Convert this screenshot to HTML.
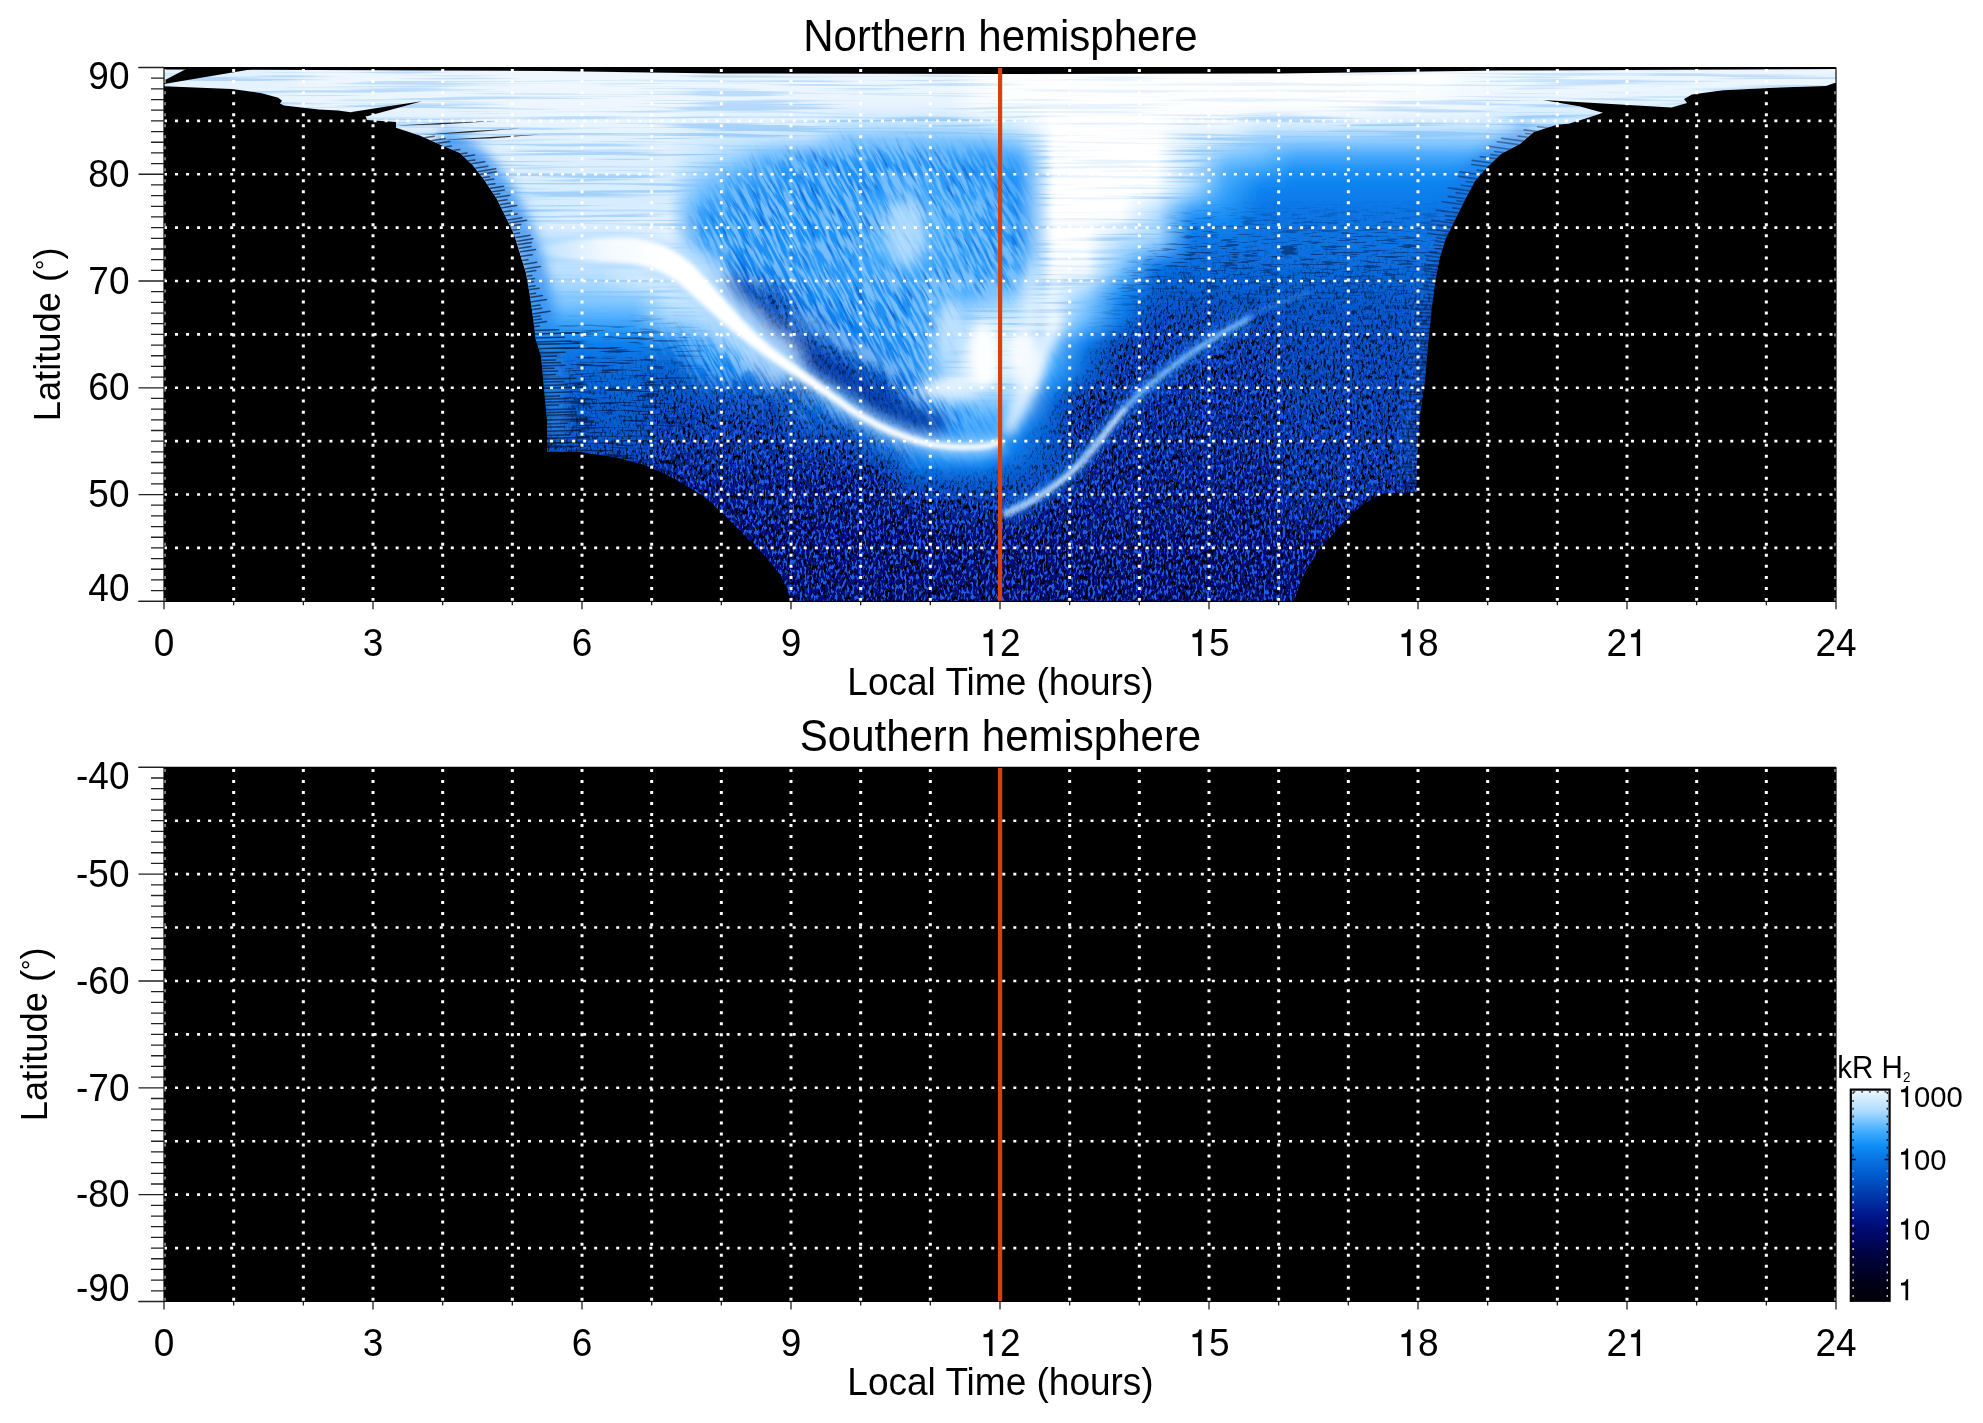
<!DOCTYPE html><html><head><meta charset="utf-8"><style>html,body{margin:0;padding:0;background:#fff;overflow:hidden}svg{display:block;will-change:transform}text{font-family:"Liberation Sans",sans-serif;fill:#000}</style></head><body>
<svg width="1983" height="1423" viewBox="0 0 1983 1423">
<defs>
<clipPath id="aclip"><polygon points="164.0,67.5 1836.0,67.5 1836.0,82.6 1825.8,86.0 1774.0,87.7 1723.0,90.3 1692.0,94.6 1684.0,98.9 1687.0,103.0 1671.5,107.4 1620.0,104.5 1543.0,100.0 1580.0,106.5 1603.0,112.8 1585.7,118.6 1568.6,123.7 1557.5,124.5 1534.0,132.0 1520.0,144.0 1501.0,154.0 1487.0,167.5 1475.0,181.0 1465.6,198.8 1456.0,218.0 1446.0,238.0 1440.0,257.0 1436.0,277.0 1432.0,306.0 1428.5,339.5 1425.0,380.0 1419.0,422.0 1417.0,460.0 1416.6,492.0 1381.5,493.5 1360.8,505.7 1340.0,526.4 1319.4,549.0 1305.0,572.0 1294.6,598.8 1293.0,601.3 792.0,601.3 781.0,575.4 761.5,552.0 742.2,533.0 723.0,513.6 703.6,496.0 674.6,478.8 645.6,465.3 616.6,457.5 578.0,451.7 547.0,451.7 547.0,420.0 545.0,399.0 541.0,356.0 535.7,339.5 533.8,323.8 530.0,296.5 526.0,273.0 520.0,253.5 514.0,234.0 506.4,218.3 496.7,198.8 485.0,181.0 473.0,165.6 460.0,153.0 437.0,143.3 419.6,135.6 396.0,127.8 396.0,122.0 367.0,120.0 365.0,114.3 338.0,110.4 319.0,109.4 284.0,105.6 280.0,103.6 282.0,100.7 278.3,97.8 260.8,93.0 231.8,89.1 164.0,86.2"/></clipPath>
<filter id="gb" filterUnits="userSpaceOnUse" x="100" y="20" width="1800" height="640"><feGaussianBlur stdDeviation="3 6"/></filter>
<filter id="ab" filterUnits="userSpaceOnUse" x="100" y="40" width="1800" height="620"><feGaussianBlur stdDeviation="2"/></filter>
<filter id="ab2" filterUnits="userSpaceOnUse" x="100" y="40" width="1800" height="620"><feGaussianBlur stdDeviation="6"/></filter>
<filter id="ab3" filterUnits="userSpaceOnUse" x="100" y="40" width="1800" height="620"><feGaussianBlur stdDeviation="10"/></filter>
<linearGradient id="g0" gradientUnits="userSpaceOnUse" x1="164.0" y1="0" x2="1836.0" y2="0"><stop offset="0.0104" stop-color="#e4f2ff"/><stop offset="0.0312" stop-color="#e4f2ff"/><stop offset="0.0521" stop-color="#e4f2ff"/><stop offset="0.0729" stop-color="#e4f2ff"/><stop offset="0.0938" stop-color="#edf6ff"/><stop offset="0.1146" stop-color="#edf6ff"/><stop offset="0.1354" stop-color="#edf6ff"/><stop offset="0.1562" stop-color="#edf6ff"/><stop offset="0.1771" stop-color="#edf6ff"/><stop offset="0.1979" stop-color="#edf6ff"/><stop offset="0.2188" stop-color="#f0f8ff"/><stop offset="0.2396" stop-color="#f0f8ff"/><stop offset="0.2604" stop-color="#f0f8ff"/><stop offset="0.2812" stop-color="#f0f8ff"/><stop offset="0.3021" stop-color="#f0f8ff"/><stop offset="0.3229" stop-color="#edf6ff"/><stop offset="0.3438" stop-color="#edf6ff"/><stop offset="0.3646" stop-color="#edf6ff"/><stop offset="0.3854" stop-color="#edf6ff"/><stop offset="0.4062" stop-color="#edf6ff"/><stop offset="0.4271" stop-color="#edf6ff"/><stop offset="0.4479" stop-color="#edf6ff"/><stop offset="0.4688" stop-color="#edf6ff"/><stop offset="0.4896" stop-color="#f9fcff"/><stop offset="0.5104" stop-color="#ffffff"/><stop offset="0.5312" stop-color="#ffffff"/><stop offset="0.5521" stop-color="#ffffff"/><stop offset="0.5729" stop-color="#ffffff"/><stop offset="0.5938" stop-color="#ffffff"/><stop offset="0.6146" stop-color="#ffffff"/><stop offset="0.6354" stop-color="#ffffff"/><stop offset="0.6562" stop-color="#ffffff"/><stop offset="0.6771" stop-color="#ffffff"/><stop offset="0.6979" stop-color="#ffffff"/><stop offset="0.7188" stop-color="#ffffff"/><stop offset="0.7396" stop-color="#ffffff"/><stop offset="0.7604" stop-color="#ffffff"/><stop offset="0.7812" stop-color="#f3f9ff"/><stop offset="0.8021" stop-color="#f3f9ff"/><stop offset="0.8229" stop-color="#f3f9ff"/><stop offset="0.8438" stop-color="#f3f9ff"/><stop offset="0.8646" stop-color="#edf6ff"/><stop offset="0.8854" stop-color="#edf6ff"/><stop offset="0.9062" stop-color="#edf6ff"/><stop offset="0.9271" stop-color="#edf6ff"/><stop offset="0.9479" stop-color="#edf6ff"/><stop offset="0.9688" stop-color="#edf6ff"/><stop offset="0.9896" stop-color="#edf6ff"/></linearGradient>
<linearGradient id="g1" gradientUnits="userSpaceOnUse" x1="164.0" y1="0" x2="1836.0" y2="0"><stop offset="0.0104" stop-color="#e5f3ff"/><stop offset="0.0312" stop-color="#e5f3ff"/><stop offset="0.0521" stop-color="#e5f3ff"/><stop offset="0.0729" stop-color="#e5f3ff"/><stop offset="0.0938" stop-color="#ecf6ff"/><stop offset="0.1146" stop-color="#ecf6ff"/><stop offset="0.1354" stop-color="#ecf6ff"/><stop offset="0.1562" stop-color="#ecf6ff"/><stop offset="0.1771" stop-color="#ecf6ff"/><stop offset="0.1979" stop-color="#ecf6ff"/><stop offset="0.2188" stop-color="#eff8ff"/><stop offset="0.2396" stop-color="#eff8ff"/><stop offset="0.2604" stop-color="#eff8ff"/><stop offset="0.2812" stop-color="#eff8ff"/><stop offset="0.3021" stop-color="#eff8ff"/><stop offset="0.3229" stop-color="#ecf6ff"/><stop offset="0.3438" stop-color="#ecf6ff"/><stop offset="0.3646" stop-color="#ecf6ff"/><stop offset="0.3854" stop-color="#ecf6ff"/><stop offset="0.4062" stop-color="#ecf6ff"/><stop offset="0.4271" stop-color="#ecf6ff"/><stop offset="0.4479" stop-color="#ecf6ff"/><stop offset="0.4688" stop-color="#ecf6ff"/><stop offset="0.4896" stop-color="#f9fcff"/><stop offset="0.5104" stop-color="#ffffff"/><stop offset="0.5312" stop-color="#ffffff"/><stop offset="0.5521" stop-color="#ffffff"/><stop offset="0.5729" stop-color="#ffffff"/><stop offset="0.5938" stop-color="#ffffff"/><stop offset="0.6146" stop-color="#ffffff"/><stop offset="0.6354" stop-color="#ffffff"/><stop offset="0.6562" stop-color="#ffffff"/><stop offset="0.6771" stop-color="#ffffff"/><stop offset="0.6979" stop-color="#ffffff"/><stop offset="0.7188" stop-color="#ffffff"/><stop offset="0.7396" stop-color="#fcfeff"/><stop offset="0.7604" stop-color="#fcfeff"/><stop offset="0.7812" stop-color="#f3f9ff"/><stop offset="0.8021" stop-color="#f0f8ff"/><stop offset="0.8229" stop-color="#f0f8ff"/><stop offset="0.8438" stop-color="#f0f8ff"/><stop offset="0.8646" stop-color="#ecf6ff"/><stop offset="0.8854" stop-color="#ecf6ff"/><stop offset="0.9062" stop-color="#ecf6ff"/><stop offset="0.9271" stop-color="#ecf6ff"/><stop offset="0.9479" stop-color="#ecf6ff"/><stop offset="0.9688" stop-color="#ecf6ff"/><stop offset="0.9896" stop-color="#ecf6ff"/></linearGradient>
<linearGradient id="g2" gradientUnits="userSpaceOnUse" x1="164.0" y1="0" x2="1836.0" y2="0"><stop offset="0.0104" stop-color="#e8f4ff"/><stop offset="0.0312" stop-color="#e8f4ff"/><stop offset="0.0521" stop-color="#e8f4ff"/><stop offset="0.0729" stop-color="#e8f4ff"/><stop offset="0.0938" stop-color="#ebf5ff"/><stop offset="0.1146" stop-color="#ebf5ff"/><stop offset="0.1354" stop-color="#ebf5ff"/><stop offset="0.1562" stop-color="#ebf5ff"/><stop offset="0.1771" stop-color="#ebf5ff"/><stop offset="0.1979" stop-color="#ebf5ff"/><stop offset="0.2188" stop-color="#eef7ff"/><stop offset="0.2396" stop-color="#eef7ff"/><stop offset="0.2604" stop-color="#eef7ff"/><stop offset="0.2812" stop-color="#eef7ff"/><stop offset="0.3021" stop-color="#eef7ff"/><stop offset="0.3229" stop-color="#ebf5ff"/><stop offset="0.3438" stop-color="#ebf5ff"/><stop offset="0.3646" stop-color="#ebf5ff"/><stop offset="0.3854" stop-color="#ebf5ff"/><stop offset="0.4062" stop-color="#ebf5ff"/><stop offset="0.4271" stop-color="#ebf5ff"/><stop offset="0.4479" stop-color="#ebf5ff"/><stop offset="0.4688" stop-color="#ebf5ff"/><stop offset="0.4896" stop-color="#f9fcff"/><stop offset="0.5104" stop-color="#ffffff"/><stop offset="0.5312" stop-color="#ffffff"/><stop offset="0.5521" stop-color="#ffffff"/><stop offset="0.5729" stop-color="#ffffff"/><stop offset="0.5938" stop-color="#ffffff"/><stop offset="0.6146" stop-color="#ffffff"/><stop offset="0.6354" stop-color="#ffffff"/><stop offset="0.6562" stop-color="#ffffff"/><stop offset="0.6771" stop-color="#ffffff"/><stop offset="0.6979" stop-color="#ffffff"/><stop offset="0.7188" stop-color="#ffffff"/><stop offset="0.7396" stop-color="#f6fbff"/><stop offset="0.7604" stop-color="#f6fbff"/><stop offset="0.7812" stop-color="#f3f9ff"/><stop offset="0.8021" stop-color="#eaf5ff"/><stop offset="0.8229" stop-color="#eaf5ff"/><stop offset="0.8438" stop-color="#eaf5ff"/><stop offset="0.8646" stop-color="#e7f4ff"/><stop offset="0.8854" stop-color="#e7f4ff"/><stop offset="0.9062" stop-color="#e7f4ff"/><stop offset="0.9271" stop-color="#e7f4ff"/><stop offset="0.9479" stop-color="#e7f4ff"/><stop offset="0.9688" stop-color="#e7f4ff"/><stop offset="0.9896" stop-color="#e7f4ff"/></linearGradient>
<linearGradient id="g3" gradientUnits="userSpaceOnUse" x1="164.0" y1="0" x2="1836.0" y2="0"><stop offset="0.0104" stop-color="#e5f3ff"/><stop offset="0.0312" stop-color="#e5f3ff"/><stop offset="0.0521" stop-color="#e5f3ff"/><stop offset="0.0729" stop-color="#e5f3ff"/><stop offset="0.0938" stop-color="#e5f3ff"/><stop offset="0.1146" stop-color="#e5f3ff"/><stop offset="0.1354" stop-color="#e5f3ff"/><stop offset="0.1562" stop-color="#e5f3ff"/><stop offset="0.1771" stop-color="#e5f3ff"/><stop offset="0.1979" stop-color="#e8f4ff"/><stop offset="0.2188" stop-color="#ecf6ff"/><stop offset="0.2396" stop-color="#ecf6ff"/><stop offset="0.2604" stop-color="#ecf6ff"/><stop offset="0.2812" stop-color="#ecf6ff"/><stop offset="0.3021" stop-color="#ecf6ff"/><stop offset="0.3229" stop-color="#e5f3ff"/><stop offset="0.3438" stop-color="#e5f3ff"/><stop offset="0.3646" stop-color="#e5f3ff"/><stop offset="0.3854" stop-color="#e5f3ff"/><stop offset="0.4062" stop-color="#d9eeff"/><stop offset="0.4271" stop-color="#d9eeff"/><stop offset="0.4479" stop-color="#d9eeff"/><stop offset="0.4688" stop-color="#d9eeff"/><stop offset="0.4896" stop-color="#edf6ff"/><stop offset="0.5104" stop-color="#f4faff"/><stop offset="0.5312" stop-color="#ffffff"/><stop offset="0.5521" stop-color="#ffffff"/><stop offset="0.5729" stop-color="#ffffff"/><stop offset="0.5938" stop-color="#ffffff"/><stop offset="0.6146" stop-color="#f9fcff"/><stop offset="0.6354" stop-color="#f9fcff"/><stop offset="0.6562" stop-color="#f3f9ff"/><stop offset="0.6771" stop-color="#f3f9ff"/><stop offset="0.6979" stop-color="#f3f9ff"/><stop offset="0.7188" stop-color="#f3f9ff"/><stop offset="0.7396" stop-color="#eaf5ff"/><stop offset="0.7604" stop-color="#eaf5ff"/><stop offset="0.7812" stop-color="#eaf5ff"/><stop offset="0.8021" stop-color="#d7edff"/><stop offset="0.8229" stop-color="#d7edff"/><stop offset="0.8438" stop-color="#d7edff"/><stop offset="0.8646" stop-color="#d7edff"/><stop offset="0.8854" stop-color="#d7edff"/><stop offset="0.9062" stop-color="#d7edff"/><stop offset="0.9271" stop-color="#d7edff"/><stop offset="0.9479" stop-color="#d7edff"/><stop offset="0.9688" stop-color="#d7edff"/><stop offset="0.9896" stop-color="#d7edff"/></linearGradient>
<linearGradient id="g4" gradientUnits="userSpaceOnUse" x1="164.0" y1="0" x2="1836.0" y2="0"><stop offset="0.0104" stop-color="#dcefff"/><stop offset="0.0312" stop-color="#dcefff"/><stop offset="0.0521" stop-color="#dcefff"/><stop offset="0.0729" stop-color="#dcefff"/><stop offset="0.0938" stop-color="#dcefff"/><stop offset="0.1146" stop-color="#dcefff"/><stop offset="0.1354" stop-color="#dcefff"/><stop offset="0.1562" stop-color="#dcefff"/><stop offset="0.1771" stop-color="#dcefff"/><stop offset="0.1979" stop-color="#e5f3ff"/><stop offset="0.2188" stop-color="#e7f4ff"/><stop offset="0.2396" stop-color="#e7f4ff"/><stop offset="0.2604" stop-color="#e7f4ff"/><stop offset="0.2812" stop-color="#e7f4ff"/><stop offset="0.3021" stop-color="#e7f4ff"/><stop offset="0.3229" stop-color="#dcefff"/><stop offset="0.3438" stop-color="#dcefff"/><stop offset="0.3646" stop-color="#dcefff"/><stop offset="0.3854" stop-color="#dcefff"/><stop offset="0.4062" stop-color="#b5dfff"/><stop offset="0.4271" stop-color="#b5dfff"/><stop offset="0.4479" stop-color="#b5dfff"/><stop offset="0.4688" stop-color="#b5dfff"/><stop offset="0.4896" stop-color="#bee3ff"/><stop offset="0.5104" stop-color="#cfeaff"/><stop offset="0.5312" stop-color="#ffffff"/><stop offset="0.5521" stop-color="#ffffff"/><stop offset="0.5729" stop-color="#ffffff"/><stop offset="0.5938" stop-color="#ffffff"/><stop offset="0.6146" stop-color="#edf6ff"/><stop offset="0.6354" stop-color="#edf6ff"/><stop offset="0.6562" stop-color="#cbe8ff"/><stop offset="0.6771" stop-color="#cbe8ff"/><stop offset="0.6979" stop-color="#cbe8ff"/><stop offset="0.7188" stop-color="#cbe8ff"/><stop offset="0.7396" stop-color="#c5e5ff"/><stop offset="0.7604" stop-color="#c5e5ff"/><stop offset="0.7812" stop-color="#c5e5ff"/><stop offset="0.8021" stop-color="#bee3ff"/><stop offset="0.8229" stop-color="#bee3ff"/><stop offset="0.8438" stop-color="#bee3ff"/><stop offset="0.8646" stop-color="#bee3ff"/><stop offset="0.8854" stop-color="#bee3ff"/><stop offset="0.9062" stop-color="#bee3ff"/><stop offset="0.9271" stop-color="#bee3ff"/><stop offset="0.9479" stop-color="#bee3ff"/><stop offset="0.9688" stop-color="#bee3ff"/><stop offset="0.9896" stop-color="#bee3ff"/></linearGradient>
<linearGradient id="g5" gradientUnits="userSpaceOnUse" x1="164.0" y1="0" x2="1836.0" y2="0"><stop offset="0.0104" stop-color="#d6ecff"/><stop offset="0.0312" stop-color="#d6ecff"/><stop offset="0.0521" stop-color="#d6ecff"/><stop offset="0.0729" stop-color="#d6ecff"/><stop offset="0.0938" stop-color="#d6ecff"/><stop offset="0.1146" stop-color="#d6ecff"/><stop offset="0.1354" stop-color="#d6ecff"/><stop offset="0.1562" stop-color="#d6ecff"/><stop offset="0.1771" stop-color="#d6ecff"/><stop offset="0.1979" stop-color="#e2f2ff"/><stop offset="0.2188" stop-color="#e2f2ff"/><stop offset="0.2396" stop-color="#e2f2ff"/><stop offset="0.2604" stop-color="#e2f2ff"/><stop offset="0.2812" stop-color="#e2f2ff"/><stop offset="0.3021" stop-color="#e2f2ff"/><stop offset="0.3229" stop-color="#d1eaff"/><stop offset="0.3438" stop-color="#c8e7ff"/><stop offset="0.3646" stop-color="#bbe1ff"/><stop offset="0.3854" stop-color="#b3deff"/><stop offset="0.4062" stop-color="#75c2ff"/><stop offset="0.4271" stop-color="#75c2ff"/><stop offset="0.4479" stop-color="#75c2ff"/><stop offset="0.4688" stop-color="#75c2ff"/><stop offset="0.4896" stop-color="#75c2ff"/><stop offset="0.5104" stop-color="#91cfff"/><stop offset="0.5312" stop-color="#ffffff"/><stop offset="0.5521" stop-color="#ffffff"/><stop offset="0.5729" stop-color="#ffffff"/><stop offset="0.5938" stop-color="#ffffff"/><stop offset="0.6146" stop-color="#ddf0ff"/><stop offset="0.6354" stop-color="#cbe8ff"/><stop offset="0.6562" stop-color="#99d2ff"/><stop offset="0.6771" stop-color="#8acbff"/><stop offset="0.6979" stop-color="#8acbff"/><stop offset="0.7188" stop-color="#8acbff"/><stop offset="0.7396" stop-color="#8acbff"/><stop offset="0.7604" stop-color="#8acbff"/><stop offset="0.7812" stop-color="#8acbff"/><stop offset="0.8021" stop-color="#8acbff"/><stop offset="0.8229" stop-color="#8acbff"/><stop offset="0.8438" stop-color="#8acbff"/><stop offset="0.8646" stop-color="#8acbff"/><stop offset="0.8854" stop-color="#8acbff"/><stop offset="0.9062" stop-color="#8acbff"/><stop offset="0.9271" stop-color="#8acbff"/><stop offset="0.9479" stop-color="#8acbff"/><stop offset="0.9688" stop-color="#8acbff"/><stop offset="0.9896" stop-color="#8acbff"/></linearGradient>
<linearGradient id="g6" gradientUnits="userSpaceOnUse" x1="164.0" y1="0" x2="1836.0" y2="0"><stop offset="0.0104" stop-color="#d3ebff"/><stop offset="0.0312" stop-color="#d3ebff"/><stop offset="0.0521" stop-color="#d3ebff"/><stop offset="0.0729" stop-color="#d3ebff"/><stop offset="0.0938" stop-color="#d3ebff"/><stop offset="0.1146" stop-color="#d3ebff"/><stop offset="0.1354" stop-color="#d3ebff"/><stop offset="0.1562" stop-color="#d3ebff"/><stop offset="0.1771" stop-color="#d3ebff"/><stop offset="0.1979" stop-color="#dff0ff"/><stop offset="0.2188" stop-color="#dff0ff"/><stop offset="0.2396" stop-color="#dff0ff"/><stop offset="0.2604" stop-color="#dff0ff"/><stop offset="0.2812" stop-color="#dff0ff"/><stop offset="0.3021" stop-color="#dff0ff"/><stop offset="0.3229" stop-color="#c4e5ff"/><stop offset="0.3438" stop-color="#9ed5ff"/><stop offset="0.3646" stop-color="#62b9fe"/><stop offset="0.3854" stop-color="#46abfd"/><stop offset="0.4062" stop-color="#35a2fb"/><stop offset="0.4271" stop-color="#35a2fb"/><stop offset="0.4479" stop-color="#35a2fb"/><stop offset="0.4688" stop-color="#35a2fb"/><stop offset="0.4896" stop-color="#35a2fb"/><stop offset="0.5104" stop-color="#48acfd"/><stop offset="0.5312" stop-color="#ffffff"/><stop offset="0.5521" stop-color="#ffffff"/><stop offset="0.5729" stop-color="#ffffff"/><stop offset="0.5938" stop-color="#ffffff"/><stop offset="0.6146" stop-color="#d1eaff"/><stop offset="0.6354" stop-color="#85c9ff"/><stop offset="0.6562" stop-color="#70c0ff"/><stop offset="0.6771" stop-color="#46abfd"/><stop offset="0.6979" stop-color="#46abfd"/><stop offset="0.7188" stop-color="#46abfd"/><stop offset="0.7396" stop-color="#46abfd"/><stop offset="0.7604" stop-color="#46abfd"/><stop offset="0.7812" stop-color="#46abfd"/><stop offset="0.8021" stop-color="#46abfd"/><stop offset="0.8229" stop-color="#46abfd"/><stop offset="0.8438" stop-color="#46abfd"/><stop offset="0.8646" stop-color="#46abfd"/><stop offset="0.8854" stop-color="#46abfd"/><stop offset="0.9062" stop-color="#46abfd"/><stop offset="0.9271" stop-color="#46abfd"/><stop offset="0.9479" stop-color="#46abfd"/><stop offset="0.9688" stop-color="#46abfd"/><stop offset="0.9896" stop-color="#46abfd"/></linearGradient>
<linearGradient id="g7" gradientUnits="userSpaceOnUse" x1="164.0" y1="0" x2="1836.0" y2="0"><stop offset="0.0104" stop-color="#cfeaff"/><stop offset="0.0312" stop-color="#cfeaff"/><stop offset="0.0521" stop-color="#cfeaff"/><stop offset="0.0729" stop-color="#cfeaff"/><stop offset="0.0938" stop-color="#cfeaff"/><stop offset="0.1146" stop-color="#cfeaff"/><stop offset="0.1354" stop-color="#cfeaff"/><stop offset="0.1562" stop-color="#cfeaff"/><stop offset="0.1771" stop-color="#cfeaff"/><stop offset="0.1979" stop-color="#d9eeff"/><stop offset="0.2188" stop-color="#dcefff"/><stop offset="0.2396" stop-color="#dcefff"/><stop offset="0.2604" stop-color="#dcefff"/><stop offset="0.2812" stop-color="#dcefff"/><stop offset="0.3021" stop-color="#dcefff"/><stop offset="0.3229" stop-color="#aedbff"/><stop offset="0.3438" stop-color="#6bbeff"/><stop offset="0.3646" stop-color="#319ffb"/><stop offset="0.3854" stop-color="#1d91f7"/><stop offset="0.4062" stop-color="#1d91f7"/><stop offset="0.4271" stop-color="#1d91f7"/><stop offset="0.4479" stop-color="#299af9"/><stop offset="0.4688" stop-color="#2194f7"/><stop offset="0.4896" stop-color="#2194f7"/><stop offset="0.5104" stop-color="#2798f9"/><stop offset="0.5312" stop-color="#ffffff"/><stop offset="0.5521" stop-color="#ffffff"/><stop offset="0.5729" stop-color="#ffffff"/><stop offset="0.5938" stop-color="#ffffff"/><stop offset="0.6146" stop-color="#c6e6ff"/><stop offset="0.6354" stop-color="#54b2fe"/><stop offset="0.6562" stop-color="#41a9fc"/><stop offset="0.6771" stop-color="#2194f7"/><stop offset="0.6979" stop-color="#2194f7"/><stop offset="0.7188" stop-color="#2194f7"/><stop offset="0.7396" stop-color="#2194f7"/><stop offset="0.7604" stop-color="#2194f7"/><stop offset="0.7812" stop-color="#2194f7"/><stop offset="0.8021" stop-color="#2194f7"/><stop offset="0.8229" stop-color="#2194f7"/><stop offset="0.8438" stop-color="#2194f7"/><stop offset="0.8646" stop-color="#2194f7"/><stop offset="0.8854" stop-color="#2194f7"/><stop offset="0.9062" stop-color="#2194f7"/><stop offset="0.9271" stop-color="#2194f7"/><stop offset="0.9479" stop-color="#2194f7"/><stop offset="0.9688" stop-color="#2194f7"/><stop offset="0.9896" stop-color="#2194f7"/></linearGradient>
<linearGradient id="g8" gradientUnits="userSpaceOnUse" x1="164.0" y1="0" x2="1836.0" y2="0"><stop offset="0.0104" stop-color="#cce9ff"/><stop offset="0.0312" stop-color="#cce9ff"/><stop offset="0.0521" stop-color="#cce9ff"/><stop offset="0.0729" stop-color="#cce9ff"/><stop offset="0.0938" stop-color="#cce9ff"/><stop offset="0.1146" stop-color="#cce9ff"/><stop offset="0.1354" stop-color="#cce9ff"/><stop offset="0.1562" stop-color="#cce9ff"/><stop offset="0.1771" stop-color="#cce9ff"/><stop offset="0.1979" stop-color="#cfeaff"/><stop offset="0.2188" stop-color="#d9eeff"/><stop offset="0.2396" stop-color="#d9eeff"/><stop offset="0.2604" stop-color="#d9eeff"/><stop offset="0.2812" stop-color="#d9eeff"/><stop offset="0.3021" stop-color="#d9eeff"/><stop offset="0.3229" stop-color="#85c9ff"/><stop offset="0.3438" stop-color="#3da6fc"/><stop offset="0.3646" stop-color="#2496f8"/><stop offset="0.3854" stop-color="#1d91f7"/><stop offset="0.4062" stop-color="#1d91f7"/><stop offset="0.4271" stop-color="#1d91f7"/><stop offset="0.4479" stop-color="#44aafd"/><stop offset="0.4688" stop-color="#2798f9"/><stop offset="0.4896" stop-color="#2798f9"/><stop offset="0.5104" stop-color="#2194f7"/><stop offset="0.5312" stop-color="#ffffff"/><stop offset="0.5521" stop-color="#ffffff"/><stop offset="0.5729" stop-color="#ffffff"/><stop offset="0.5938" stop-color="#ffffff"/><stop offset="0.6146" stop-color="#bde2ff"/><stop offset="0.6354" stop-color="#41a9fc"/><stop offset="0.6562" stop-color="#178df5"/><stop offset="0.6771" stop-color="#0f86f2"/><stop offset="0.6979" stop-color="#0f86f2"/><stop offset="0.7188" stop-color="#0f86f2"/><stop offset="0.7396" stop-color="#0f86f2"/><stop offset="0.7604" stop-color="#0f86f2"/><stop offset="0.7812" stop-color="#0f86f2"/><stop offset="0.8021" stop-color="#0f86f2"/><stop offset="0.8229" stop-color="#0f86f2"/><stop offset="0.8438" stop-color="#0f86f2"/><stop offset="0.8646" stop-color="#0f86f2"/><stop offset="0.8854" stop-color="#0f86f2"/><stop offset="0.9062" stop-color="#0f86f2"/><stop offset="0.9271" stop-color="#0f86f2"/><stop offset="0.9479" stop-color="#0f86f2"/><stop offset="0.9688" stop-color="#0f86f2"/><stop offset="0.9896" stop-color="#0f86f2"/></linearGradient>
<linearGradient id="g9" gradientUnits="userSpaceOnUse" x1="164.0" y1="0" x2="1836.0" y2="0"><stop offset="0.0104" stop-color="#cbe8ff"/><stop offset="0.0312" stop-color="#cbe8ff"/><stop offset="0.0521" stop-color="#cbe8ff"/><stop offset="0.0729" stop-color="#cbe8ff"/><stop offset="0.0938" stop-color="#cbe8ff"/><stop offset="0.1146" stop-color="#cbe8ff"/><stop offset="0.1354" stop-color="#cbe8ff"/><stop offset="0.1562" stop-color="#cbe8ff"/><stop offset="0.1771" stop-color="#cbe8ff"/><stop offset="0.1979" stop-color="#cbe8ff"/><stop offset="0.2188" stop-color="#d4ecff"/><stop offset="0.2396" stop-color="#d7edff"/><stop offset="0.2604" stop-color="#d7edff"/><stop offset="0.2812" stop-color="#d7edff"/><stop offset="0.3021" stop-color="#d7edff"/><stop offset="0.3229" stop-color="#5db7fe"/><stop offset="0.3438" stop-color="#2798f9"/><stop offset="0.3646" stop-color="#1d91f7"/><stop offset="0.3854" stop-color="#1d91f7"/><stop offset="0.4062" stop-color="#1d91f7"/><stop offset="0.4271" stop-color="#2697f8"/><stop offset="0.4479" stop-color="#5bb6fe"/><stop offset="0.4688" stop-color="#2e9dfa"/><stop offset="0.4896" stop-color="#2b9bf9"/><stop offset="0.5104" stop-color="#1d91f7"/><stop offset="0.5312" stop-color="#ffffff"/><stop offset="0.5521" stop-color="#ffffff"/><stop offset="0.5729" stop-color="#ffffff"/><stop offset="0.5938" stop-color="#f2f9ff"/><stop offset="0.6146" stop-color="#8ccdff"/><stop offset="0.6354" stop-color="#319ffb"/><stop offset="0.6562" stop-color="#0c7eec"/><stop offset="0.6771" stop-color="#0c7eec"/><stop offset="0.6979" stop-color="#0c7eec"/><stop offset="0.7188" stop-color="#0c7eec"/><stop offset="0.7396" stop-color="#0c7eec"/><stop offset="0.7604" stop-color="#0c7eec"/><stop offset="0.7812" stop-color="#0c7eec"/><stop offset="0.8021" stop-color="#0c7eec"/><stop offset="0.8229" stop-color="#0c7eec"/><stop offset="0.8438" stop-color="#0c7eec"/><stop offset="0.8646" stop-color="#0c7eec"/><stop offset="0.8854" stop-color="#0c7eec"/><stop offset="0.9062" stop-color="#0c7eec"/><stop offset="0.9271" stop-color="#0c7eec"/><stop offset="0.9479" stop-color="#0c7eec"/><stop offset="0.9688" stop-color="#0c7eec"/><stop offset="0.9896" stop-color="#0c7eec"/></linearGradient>
<linearGradient id="g10" gradientUnits="userSpaceOnUse" x1="164.0" y1="0" x2="1836.0" y2="0"><stop offset="0.0104" stop-color="#cbe8ff"/><stop offset="0.0312" stop-color="#cbe8ff"/><stop offset="0.0521" stop-color="#cbe8ff"/><stop offset="0.0729" stop-color="#cbe8ff"/><stop offset="0.0938" stop-color="#cbe8ff"/><stop offset="0.1146" stop-color="#cbe8ff"/><stop offset="0.1354" stop-color="#cbe8ff"/><stop offset="0.1562" stop-color="#cbe8ff"/><stop offset="0.1771" stop-color="#cbe8ff"/><stop offset="0.1979" stop-color="#cbe8ff"/><stop offset="0.2188" stop-color="#cee9ff"/><stop offset="0.2396" stop-color="#d7edff"/><stop offset="0.2604" stop-color="#d7edff"/><stop offset="0.2812" stop-color="#d7edff"/><stop offset="0.3021" stop-color="#d7edff"/><stop offset="0.3229" stop-color="#38a4fc"/><stop offset="0.3438" stop-color="#2194f7"/><stop offset="0.3646" stop-color="#1d91f7"/><stop offset="0.3854" stop-color="#1d91f7"/><stop offset="0.4062" stop-color="#1d91f7"/><stop offset="0.4271" stop-color="#36a3fc"/><stop offset="0.4479" stop-color="#69bcff"/><stop offset="0.4688" stop-color="#35a2fb"/><stop offset="0.4896" stop-color="#2b9bf9"/><stop offset="0.5104" stop-color="#1d91f7"/><stop offset="0.5312" stop-color="#ffffff"/><stop offset="0.5521" stop-color="#ffffff"/><stop offset="0.5729" stop-color="#ffffff"/><stop offset="0.5938" stop-color="#c6e6ff"/><stop offset="0.6146" stop-color="#3aa5fc"/><stop offset="0.6354" stop-color="#2496f8"/><stop offset="0.6562" stop-color="#0a78e7"/><stop offset="0.6771" stop-color="#0a78e7"/><stop offset="0.6979" stop-color="#0a78e7"/><stop offset="0.7188" stop-color="#0a78e7"/><stop offset="0.7396" stop-color="#0a78e7"/><stop offset="0.7604" stop-color="#0a78e7"/><stop offset="0.7812" stop-color="#0a78e7"/><stop offset="0.8021" stop-color="#0a78e7"/><stop offset="0.8229" stop-color="#0a78e7"/><stop offset="0.8438" stop-color="#0a78e7"/><stop offset="0.8646" stop-color="#0a78e7"/><stop offset="0.8854" stop-color="#0a78e7"/><stop offset="0.9062" stop-color="#0a78e7"/><stop offset="0.9271" stop-color="#0a78e7"/><stop offset="0.9479" stop-color="#0a78e7"/><stop offset="0.9688" stop-color="#0a78e7"/><stop offset="0.9896" stop-color="#0a78e7"/></linearGradient>
<linearGradient id="g11" gradientUnits="userSpaceOnUse" x1="164.0" y1="0" x2="1836.0" y2="0"><stop offset="0.0104" stop-color="#d1eaff"/><stop offset="0.0312" stop-color="#d1eaff"/><stop offset="0.0521" stop-color="#d1eaff"/><stop offset="0.0729" stop-color="#d1eaff"/><stop offset="0.0938" stop-color="#d1eaff"/><stop offset="0.1146" stop-color="#d1eaff"/><stop offset="0.1354" stop-color="#d1eaff"/><stop offset="0.1562" stop-color="#d1eaff"/><stop offset="0.1771" stop-color="#d1eaff"/><stop offset="0.1979" stop-color="#d1eaff"/><stop offset="0.2188" stop-color="#d1eaff"/><stop offset="0.2396" stop-color="#e4f2ff"/><stop offset="0.2604" stop-color="#e4f2ff"/><stop offset="0.2812" stop-color="#e4f2ff"/><stop offset="0.3021" stop-color="#e4f2ff"/><stop offset="0.3229" stop-color="#2798f9"/><stop offset="0.3438" stop-color="#1d91f7"/><stop offset="0.3646" stop-color="#1d91f7"/><stop offset="0.3854" stop-color="#1d91f7"/><stop offset="0.4062" stop-color="#1d91f7"/><stop offset="0.4271" stop-color="#46abfd"/><stop offset="0.4479" stop-color="#70c0ff"/><stop offset="0.4688" stop-color="#38a4fc"/><stop offset="0.4896" stop-color="#2b9bf9"/><stop offset="0.5104" stop-color="#1d91f7"/><stop offset="0.5312" stop-color="#ffffff"/><stop offset="0.5521" stop-color="#ffffff"/><stop offset="0.5729" stop-color="#f4faff"/><stop offset="0.5938" stop-color="#a9d9ff"/><stop offset="0.6146" stop-color="#1289f4"/><stop offset="0.6354" stop-color="#1289f4"/><stop offset="0.6562" stop-color="#0976e5"/><stop offset="0.6771" stop-color="#0976e5"/><stop offset="0.6979" stop-color="#0976e5"/><stop offset="0.7188" stop-color="#0976e5"/><stop offset="0.7396" stop-color="#0976e5"/><stop offset="0.7604" stop-color="#0976e5"/><stop offset="0.7812" stop-color="#0976e5"/><stop offset="0.8021" stop-color="#0976e5"/><stop offset="0.8229" stop-color="#0976e5"/><stop offset="0.8438" stop-color="#0976e5"/><stop offset="0.8646" stop-color="#0976e5"/><stop offset="0.8854" stop-color="#0976e5"/><stop offset="0.9062" stop-color="#0976e5"/><stop offset="0.9271" stop-color="#0976e5"/><stop offset="0.9479" stop-color="#0976e5"/><stop offset="0.9688" stop-color="#0976e5"/><stop offset="0.9896" stop-color="#0976e5"/></linearGradient>
<linearGradient id="g12" gradientUnits="userSpaceOnUse" x1="164.0" y1="0" x2="1836.0" y2="0"><stop offset="0.0104" stop-color="#ddf0ff"/><stop offset="0.0312" stop-color="#ddf0ff"/><stop offset="0.0521" stop-color="#ddf0ff"/><stop offset="0.0729" stop-color="#ddf0ff"/><stop offset="0.0938" stop-color="#ddf0ff"/><stop offset="0.1146" stop-color="#ddf0ff"/><stop offset="0.1354" stop-color="#ddf0ff"/><stop offset="0.1562" stop-color="#ddf0ff"/><stop offset="0.1771" stop-color="#ddf0ff"/><stop offset="0.1979" stop-color="#ddf0ff"/><stop offset="0.2188" stop-color="#ddf0ff"/><stop offset="0.2396" stop-color="#f3f9ff"/><stop offset="0.2604" stop-color="#f3f9ff"/><stop offset="0.2812" stop-color="#f3f9ff"/><stop offset="0.3021" stop-color="#f3f9ff"/><stop offset="0.3229" stop-color="#2194f7"/><stop offset="0.3438" stop-color="#1d91f7"/><stop offset="0.3646" stop-color="#1d91f7"/><stop offset="0.3854" stop-color="#1d91f7"/><stop offset="0.4062" stop-color="#1d91f7"/><stop offset="0.4271" stop-color="#4fb0fd"/><stop offset="0.4479" stop-color="#70c0ff"/><stop offset="0.4688" stop-color="#38a4fc"/><stop offset="0.4896" stop-color="#2b9bf9"/><stop offset="0.5104" stop-color="#1d91f7"/><stop offset="0.5312" stop-color="#ffffff"/><stop offset="0.5521" stop-color="#ffffff"/><stop offset="0.5729" stop-color="#cfeaff"/><stop offset="0.5938" stop-color="#b3deff"/><stop offset="0.6146" stop-color="#0c7cea"/><stop offset="0.6354" stop-color="#0c7cea"/><stop offset="0.6562" stop-color="#0976e5"/><stop offset="0.6771" stop-color="#0976e5"/><stop offset="0.6979" stop-color="#0976e5"/><stop offset="0.7188" stop-color="#0976e5"/><stop offset="0.7396" stop-color="#0976e5"/><stop offset="0.7604" stop-color="#0976e5"/><stop offset="0.7812" stop-color="#0976e5"/><stop offset="0.8021" stop-color="#0976e5"/><stop offset="0.8229" stop-color="#0976e5"/><stop offset="0.8438" stop-color="#0976e5"/><stop offset="0.8646" stop-color="#0976e5"/><stop offset="0.8854" stop-color="#0976e5"/><stop offset="0.9062" stop-color="#0976e5"/><stop offset="0.9271" stop-color="#0976e5"/><stop offset="0.9479" stop-color="#0976e5"/><stop offset="0.9688" stop-color="#0976e5"/><stop offset="0.9896" stop-color="#0976e5"/></linearGradient>
<linearGradient id="g13" gradientUnits="userSpaceOnUse" x1="164.0" y1="0" x2="1836.0" y2="0"><stop offset="0.0104" stop-color="#d9eeff"/><stop offset="0.0312" stop-color="#d9eeff"/><stop offset="0.0521" stop-color="#d9eeff"/><stop offset="0.0729" stop-color="#d9eeff"/><stop offset="0.0938" stop-color="#d9eeff"/><stop offset="0.1146" stop-color="#d9eeff"/><stop offset="0.1354" stop-color="#d9eeff"/><stop offset="0.1562" stop-color="#d9eeff"/><stop offset="0.1771" stop-color="#d9eeff"/><stop offset="0.1979" stop-color="#d9eeff"/><stop offset="0.2188" stop-color="#d9eeff"/><stop offset="0.2396" stop-color="#eff8ff"/><stop offset="0.2604" stop-color="#eff8ff"/><stop offset="0.2812" stop-color="#f5faff"/><stop offset="0.3021" stop-color="#f5faff"/><stop offset="0.3229" stop-color="#3aa5fc"/><stop offset="0.3438" stop-color="#188ef6"/><stop offset="0.3646" stop-color="#1d91f7"/><stop offset="0.3854" stop-color="#2194f7"/><stop offset="0.4062" stop-color="#2194f7"/><stop offset="0.4271" stop-color="#4daffd"/><stop offset="0.4479" stop-color="#69bcff"/><stop offset="0.4688" stop-color="#35a2fb"/><stop offset="0.4896" stop-color="#2b9bf9"/><stop offset="0.5104" stop-color="#2496f8"/><stop offset="0.5312" stop-color="#fdfeff"/><stop offset="0.5521" stop-color="#fdfeff"/><stop offset="0.5729" stop-color="#abdaff"/><stop offset="0.5938" stop-color="#75c2ff"/><stop offset="0.6146" stop-color="#0974e4"/><stop offset="0.6354" stop-color="#0974e4"/><stop offset="0.6562" stop-color="#0974e4"/><stop offset="0.6771" stop-color="#0974e4"/><stop offset="0.6979" stop-color="#0974e4"/><stop offset="0.7188" stop-color="#0974e4"/><stop offset="0.7396" stop-color="#0974e4"/><stop offset="0.7604" stop-color="#0974e4"/><stop offset="0.7812" stop-color="#0974e4"/><stop offset="0.8021" stop-color="#0974e4"/><stop offset="0.8229" stop-color="#0974e4"/><stop offset="0.8438" stop-color="#0974e4"/><stop offset="0.8646" stop-color="#0974e4"/><stop offset="0.8854" stop-color="#0974e4"/><stop offset="0.9062" stop-color="#0974e4"/><stop offset="0.9271" stop-color="#0974e4"/><stop offset="0.9479" stop-color="#0974e4"/><stop offset="0.9688" stop-color="#0974e4"/><stop offset="0.9896" stop-color="#0974e4"/></linearGradient>
<linearGradient id="g14" gradientUnits="userSpaceOnUse" x1="164.0" y1="0" x2="1836.0" y2="0"><stop offset="0.0104" stop-color="#c3e5ff"/><stop offset="0.0312" stop-color="#c3e5ff"/><stop offset="0.0521" stop-color="#c3e5ff"/><stop offset="0.0729" stop-color="#c3e5ff"/><stop offset="0.0938" stop-color="#c3e5ff"/><stop offset="0.1146" stop-color="#c3e5ff"/><stop offset="0.1354" stop-color="#c3e5ff"/><stop offset="0.1562" stop-color="#c3e5ff"/><stop offset="0.1771" stop-color="#c3e5ff"/><stop offset="0.1979" stop-color="#c3e5ff"/><stop offset="0.2188" stop-color="#c3e5ff"/><stop offset="0.2396" stop-color="#cce9ff"/><stop offset="0.2604" stop-color="#cce9ff"/><stop offset="0.2812" stop-color="#eef7ff"/><stop offset="0.3021" stop-color="#eef7ff"/><stop offset="0.3229" stop-color="#8ccdff"/><stop offset="0.3438" stop-color="#1087f3"/><stop offset="0.3646" stop-color="#1d91f7"/><stop offset="0.3854" stop-color="#2798f9"/><stop offset="0.4062" stop-color="#2798f9"/><stop offset="0.4271" stop-color="#3fa8fc"/><stop offset="0.4479" stop-color="#5bb6fe"/><stop offset="0.4688" stop-color="#2e9dfa"/><stop offset="0.4896" stop-color="#2b9bf9"/><stop offset="0.5104" stop-color="#319ffb"/><stop offset="0.5312" stop-color="#fbfdff"/><stop offset="0.5521" stop-color="#fbfdff"/><stop offset="0.5729" stop-color="#91cfff"/><stop offset="0.5938" stop-color="#0f86f2"/><stop offset="0.6146" stop-color="#0770e0"/><stop offset="0.6354" stop-color="#0770e0"/><stop offset="0.6562" stop-color="#0770e0"/><stop offset="0.6771" stop-color="#0770e0"/><stop offset="0.6979" stop-color="#0770e0"/><stop offset="0.7188" stop-color="#0770e0"/><stop offset="0.7396" stop-color="#0770e0"/><stop offset="0.7604" stop-color="#0770e0"/><stop offset="0.7812" stop-color="#0770e0"/><stop offset="0.8021" stop-color="#0770e0"/><stop offset="0.8229" stop-color="#0770e0"/><stop offset="0.8438" stop-color="#0770e0"/><stop offset="0.8646" stop-color="#0770e0"/><stop offset="0.8854" stop-color="#0770e0"/><stop offset="0.9062" stop-color="#0770e0"/><stop offset="0.9271" stop-color="#0770e0"/><stop offset="0.9479" stop-color="#0770e0"/><stop offset="0.9688" stop-color="#0770e0"/><stop offset="0.9896" stop-color="#0770e0"/></linearGradient>
<linearGradient id="g15" gradientUnits="userSpaceOnUse" x1="164.0" y1="0" x2="1836.0" y2="0"><stop offset="0.0104" stop-color="#a6d8ff"/><stop offset="0.0312" stop-color="#a6d8ff"/><stop offset="0.0521" stop-color="#a6d8ff"/><stop offset="0.0729" stop-color="#a6d8ff"/><stop offset="0.0938" stop-color="#a6d8ff"/><stop offset="0.1146" stop-color="#a6d8ff"/><stop offset="0.1354" stop-color="#a6d8ff"/><stop offset="0.1562" stop-color="#a6d8ff"/><stop offset="0.1771" stop-color="#a6d8ff"/><stop offset="0.1979" stop-color="#a6d8ff"/><stop offset="0.2188" stop-color="#a6d8ff"/><stop offset="0.2396" stop-color="#b0ddff"/><stop offset="0.2604" stop-color="#b0ddff"/><stop offset="0.2812" stop-color="#d9eeff"/><stop offset="0.3021" stop-color="#e2f2ff"/><stop offset="0.3229" stop-color="#bde2ff"/><stop offset="0.3438" stop-color="#0a78e7"/><stop offset="0.3646" stop-color="#0d81ee"/><stop offset="0.3854" stop-color="#2798f9"/><stop offset="0.4062" stop-color="#2798f9"/><stop offset="0.4271" stop-color="#319ffb"/><stop offset="0.4479" stop-color="#44aafd"/><stop offset="0.4688" stop-color="#33a0fb"/><stop offset="0.4896" stop-color="#33a0fb"/><stop offset="0.5104" stop-color="#4badfd"/><stop offset="0.5312" stop-color="#f7fbff"/><stop offset="0.5521" stop-color="#ecf6ff"/><stop offset="0.5729" stop-color="#60b8fe"/><stop offset="0.5938" stop-color="#066bdc"/><stop offset="0.6146" stop-color="#066bdc"/><stop offset="0.6354" stop-color="#066bdc"/><stop offset="0.6562" stop-color="#066bdc"/><stop offset="0.6771" stop-color="#066bdc"/><stop offset="0.6979" stop-color="#066bdc"/><stop offset="0.7188" stop-color="#066bdc"/><stop offset="0.7396" stop-color="#066bdc"/><stop offset="0.7604" stop-color="#066bdc"/><stop offset="0.7812" stop-color="#066bdc"/><stop offset="0.8021" stop-color="#066bdc"/><stop offset="0.8229" stop-color="#066bdc"/><stop offset="0.8438" stop-color="#066bdc"/><stop offset="0.8646" stop-color="#066bdc"/><stop offset="0.8854" stop-color="#066bdc"/><stop offset="0.9062" stop-color="#066bdc"/><stop offset="0.9271" stop-color="#066bdc"/><stop offset="0.9479" stop-color="#066bdc"/><stop offset="0.9688" stop-color="#066bdc"/><stop offset="0.9896" stop-color="#066bdc"/></linearGradient>
<linearGradient id="g16" gradientUnits="userSpaceOnUse" x1="164.0" y1="0" x2="1836.0" y2="0"><stop offset="0.0104" stop-color="#82c8ff"/><stop offset="0.0312" stop-color="#82c8ff"/><stop offset="0.0521" stop-color="#82c8ff"/><stop offset="0.0729" stop-color="#82c8ff"/><stop offset="0.0938" stop-color="#82c8ff"/><stop offset="0.1146" stop-color="#82c8ff"/><stop offset="0.1354" stop-color="#82c8ff"/><stop offset="0.1562" stop-color="#82c8ff"/><stop offset="0.1771" stop-color="#82c8ff"/><stop offset="0.1979" stop-color="#82c8ff"/><stop offset="0.2188" stop-color="#82c8ff"/><stop offset="0.2396" stop-color="#a1d6ff"/><stop offset="0.2604" stop-color="#a1d6ff"/><stop offset="0.2812" stop-color="#b5dfff"/><stop offset="0.3021" stop-color="#d3ebff"/><stop offset="0.3229" stop-color="#c6e6ff"/><stop offset="0.3438" stop-color="#0360d3"/><stop offset="0.3646" stop-color="#0463d5"/><stop offset="0.3854" stop-color="#2194f7"/><stop offset="0.4062" stop-color="#2194f7"/><stop offset="0.4271" stop-color="#2496f8"/><stop offset="0.4479" stop-color="#299af9"/><stop offset="0.4688" stop-color="#48acfd"/><stop offset="0.4896" stop-color="#48acfd"/><stop offset="0.5104" stop-color="#70c0ff"/><stop offset="0.5312" stop-color="#f2f9ff"/><stop offset="0.5521" stop-color="#b3deff"/><stop offset="0.5729" stop-color="#2295f8"/><stop offset="0.5938" stop-color="#0463d5"/><stop offset="0.6146" stop-color="#0463d5"/><stop offset="0.6354" stop-color="#0463d5"/><stop offset="0.6562" stop-color="#0463d5"/><stop offset="0.6771" stop-color="#0463d5"/><stop offset="0.6979" stop-color="#0463d5"/><stop offset="0.7188" stop-color="#0463d5"/><stop offset="0.7396" stop-color="#0463d5"/><stop offset="0.7604" stop-color="#0463d5"/><stop offset="0.7812" stop-color="#0463d5"/><stop offset="0.8021" stop-color="#0463d5"/><stop offset="0.8229" stop-color="#0463d5"/><stop offset="0.8438" stop-color="#0463d5"/><stop offset="0.8646" stop-color="#0463d5"/><stop offset="0.8854" stop-color="#0463d5"/><stop offset="0.9062" stop-color="#0463d5"/><stop offset="0.9271" stop-color="#0463d5"/><stop offset="0.9479" stop-color="#0463d5"/><stop offset="0.9688" stop-color="#0463d5"/><stop offset="0.9896" stop-color="#0463d5"/></linearGradient>
<linearGradient id="g17" gradientUnits="userSpaceOnUse" x1="164.0" y1="0" x2="1836.0" y2="0"><stop offset="0.0104" stop-color="#64bafe"/><stop offset="0.0312" stop-color="#64bafe"/><stop offset="0.0521" stop-color="#64bafe"/><stop offset="0.0729" stop-color="#64bafe"/><stop offset="0.0938" stop-color="#64bafe"/><stop offset="0.1146" stop-color="#64bafe"/><stop offset="0.1354" stop-color="#64bafe"/><stop offset="0.1562" stop-color="#64bafe"/><stop offset="0.1771" stop-color="#64bafe"/><stop offset="0.1979" stop-color="#64bafe"/><stop offset="0.2188" stop-color="#64bafe"/><stop offset="0.2396" stop-color="#82c8ff"/><stop offset="0.2604" stop-color="#82c8ff"/><stop offset="0.2812" stop-color="#82c8ff"/><stop offset="0.3021" stop-color="#c3e5ff"/><stop offset="0.3229" stop-color="#c3e5ff"/><stop offset="0.3438" stop-color="#0568d9"/><stop offset="0.3646" stop-color="#0050c4"/><stop offset="0.3854" stop-color="#0f86f2"/><stop offset="0.4062" stop-color="#188ef6"/><stop offset="0.4271" stop-color="#1d91f7"/><stop offset="0.4479" stop-color="#2194f7"/><stop offset="0.4688" stop-color="#60b8fe"/><stop offset="0.4896" stop-color="#78c3ff"/><stop offset="0.5104" stop-color="#9ed5ff"/><stop offset="0.5312" stop-color="#ecf6ff"/><stop offset="0.5521" stop-color="#7fc7ff"/><stop offset="0.5729" stop-color="#0e83f0"/><stop offset="0.5938" stop-color="#015acd"/><stop offset="0.6146" stop-color="#015acd"/><stop offset="0.6354" stop-color="#015acd"/><stop offset="0.6562" stop-color="#015acd"/><stop offset="0.6771" stop-color="#025ccf"/><stop offset="0.6979" stop-color="#025ccf"/><stop offset="0.7188" stop-color="#025ccf"/><stop offset="0.7396" stop-color="#025ccf"/><stop offset="0.7604" stop-color="#025ccf"/><stop offset="0.7812" stop-color="#025ccf"/><stop offset="0.8021" stop-color="#025ccf"/><stop offset="0.8229" stop-color="#025ccf"/><stop offset="0.8438" stop-color="#025ccf"/><stop offset="0.8646" stop-color="#025ccf"/><stop offset="0.8854" stop-color="#025ccf"/><stop offset="0.9062" stop-color="#025ccf"/><stop offset="0.9271" stop-color="#025ccf"/><stop offset="0.9479" stop-color="#025ccf"/><stop offset="0.9688" stop-color="#025ccf"/><stop offset="0.9896" stop-color="#025ccf"/></linearGradient>
<linearGradient id="g18" gradientUnits="userSpaceOnUse" x1="164.0" y1="0" x2="1836.0" y2="0"><stop offset="0.0104" stop-color="#4daefd"/><stop offset="0.0312" stop-color="#4daefd"/><stop offset="0.0521" stop-color="#4daefd"/><stop offset="0.0729" stop-color="#4daefd"/><stop offset="0.0938" stop-color="#4daefd"/><stop offset="0.1146" stop-color="#4daefd"/><stop offset="0.1354" stop-color="#4daefd"/><stop offset="0.1562" stop-color="#4daefd"/><stop offset="0.1771" stop-color="#4daefd"/><stop offset="0.1979" stop-color="#4daefd"/><stop offset="0.2188" stop-color="#4daefd"/><stop offset="0.2396" stop-color="#56b3fe"/><stop offset="0.2604" stop-color="#56b3fe"/><stop offset="0.2812" stop-color="#56b3fe"/><stop offset="0.3021" stop-color="#b0ddff"/><stop offset="0.3229" stop-color="#b0ddff"/><stop offset="0.3438" stop-color="#1c90f6"/><stop offset="0.3646" stop-color="#0048bc"/><stop offset="0.3854" stop-color="#0974e4"/><stop offset="0.4062" stop-color="#1087f3"/><stop offset="0.4271" stop-color="#1d91f7"/><stop offset="0.4479" stop-color="#2798f9"/><stop offset="0.4688" stop-color="#78c3ff"/><stop offset="0.4896" stop-color="#c0e3ff"/><stop offset="0.5104" stop-color="#c8e7ff"/><stop offset="0.5312" stop-color="#dff0ff"/><stop offset="0.5521" stop-color="#75c2ff"/><stop offset="0.5729" stop-color="#0d7fec"/><stop offset="0.5938" stop-color="#004ec2"/><stop offset="0.6146" stop-color="#004ec2"/><stop offset="0.6354" stop-color="#004ec2"/><stop offset="0.6562" stop-color="#004ec2"/><stop offset="0.6771" stop-color="#0157ca"/><stop offset="0.6979" stop-color="#0157ca"/><stop offset="0.7188" stop-color="#0157ca"/><stop offset="0.7396" stop-color="#0157ca"/><stop offset="0.7604" stop-color="#0157ca"/><stop offset="0.7812" stop-color="#0157ca"/><stop offset="0.8021" stop-color="#0157ca"/><stop offset="0.8229" stop-color="#0157ca"/><stop offset="0.8438" stop-color="#0157ca"/><stop offset="0.8646" stop-color="#0157ca"/><stop offset="0.8854" stop-color="#0157ca"/><stop offset="0.9062" stop-color="#0157ca"/><stop offset="0.9271" stop-color="#0157ca"/><stop offset="0.9479" stop-color="#0157ca"/><stop offset="0.9688" stop-color="#0157ca"/><stop offset="0.9896" stop-color="#0157ca"/></linearGradient>
<linearGradient id="g19" gradientUnits="userSpaceOnUse" x1="164.0" y1="0" x2="1836.0" y2="0"><stop offset="0.0104" stop-color="#2c9cfa"/><stop offset="0.0312" stop-color="#2c9cfa"/><stop offset="0.0521" stop-color="#2c9cfa"/><stop offset="0.0729" stop-color="#2c9cfa"/><stop offset="0.0938" stop-color="#2c9cfa"/><stop offset="0.1146" stop-color="#2c9cfa"/><stop offset="0.1354" stop-color="#2c9cfa"/><stop offset="0.1562" stop-color="#2c9cfa"/><stop offset="0.1771" stop-color="#2c9cfa"/><stop offset="0.1979" stop-color="#2c9cfa"/><stop offset="0.2188" stop-color="#2c9cfa"/><stop offset="0.2396" stop-color="#2c9cfa"/><stop offset="0.2604" stop-color="#2c9cfa"/><stop offset="0.2812" stop-color="#2c9cfa"/><stop offset="0.3021" stop-color="#6ebfff"/><stop offset="0.3229" stop-color="#82c8ff"/><stop offset="0.3438" stop-color="#3aa5fc"/><stop offset="0.3646" stop-color="#0043b7"/><stop offset="0.3854" stop-color="#0360d3"/><stop offset="0.4062" stop-color="#0c7eec"/><stop offset="0.4271" stop-color="#188ef6"/><stop offset="0.4479" stop-color="#2798f9"/><stop offset="0.4688" stop-color="#85c9ff"/><stop offset="0.4896" stop-color="#dcefff"/><stop offset="0.5104" stop-color="#d7edff"/><stop offset="0.5312" stop-color="#c0e3ff"/><stop offset="0.5521" stop-color="#46abfd"/><stop offset="0.5729" stop-color="#076dde"/><stop offset="0.5938" stop-color="#0045b9"/><stop offset="0.6146" stop-color="#0045b9"/><stop offset="0.6354" stop-color="#0045b9"/><stop offset="0.6562" stop-color="#0045b9"/><stop offset="0.6771" stop-color="#0052c6"/><stop offset="0.6979" stop-color="#0052c6"/><stop offset="0.7188" stop-color="#0052c6"/><stop offset="0.7396" stop-color="#0052c6"/><stop offset="0.7604" stop-color="#0052c6"/><stop offset="0.7812" stop-color="#0052c6"/><stop offset="0.8021" stop-color="#0052c6"/><stop offset="0.8229" stop-color="#0052c6"/><stop offset="0.8438" stop-color="#0052c6"/><stop offset="0.8646" stop-color="#0052c6"/><stop offset="0.8854" stop-color="#0052c6"/><stop offset="0.9062" stop-color="#0052c6"/><stop offset="0.9271" stop-color="#0052c6"/><stop offset="0.9479" stop-color="#0052c6"/><stop offset="0.9688" stop-color="#0052c6"/><stop offset="0.9896" stop-color="#0052c6"/></linearGradient>
<linearGradient id="g20" gradientUnits="userSpaceOnUse" x1="164.0" y1="0" x2="1836.0" y2="0"><stop offset="0.0104" stop-color="#0e83f0"/><stop offset="0.0312" stop-color="#0e83f0"/><stop offset="0.0521" stop-color="#0e83f0"/><stop offset="0.0729" stop-color="#0e83f0"/><stop offset="0.0938" stop-color="#0e83f0"/><stop offset="0.1146" stop-color="#0e83f0"/><stop offset="0.1354" stop-color="#0e83f0"/><stop offset="0.1562" stop-color="#0e83f0"/><stop offset="0.1771" stop-color="#0e83f0"/><stop offset="0.1979" stop-color="#0e83f0"/><stop offset="0.2188" stop-color="#0e83f0"/><stop offset="0.2396" stop-color="#0e83f0"/><stop offset="0.2604" stop-color="#0e83f0"/><stop offset="0.2812" stop-color="#0e83f0"/><stop offset="0.3021" stop-color="#188ef6"/><stop offset="0.3229" stop-color="#44aafd"/><stop offset="0.3438" stop-color="#309efa"/><stop offset="0.3646" stop-color="#0041b5"/><stop offset="0.3854" stop-color="#004bbf"/><stop offset="0.4062" stop-color="#0871e1"/><stop offset="0.4271" stop-color="#1087f3"/><stop offset="0.4479" stop-color="#2194f7"/><stop offset="0.4688" stop-color="#85c9ff"/><stop offset="0.4896" stop-color="#e5f3ff"/><stop offset="0.5104" stop-color="#d7edff"/><stop offset="0.5312" stop-color="#78c3ff"/><stop offset="0.5521" stop-color="#0e83f0"/><stop offset="0.5729" stop-color="#004dc1"/><stop offset="0.5938" stop-color="#003fb3"/><stop offset="0.6146" stop-color="#003fb3"/><stop offset="0.6354" stop-color="#003fb3"/><stop offset="0.6562" stop-color="#003fb3"/><stop offset="0.6771" stop-color="#004ec2"/><stop offset="0.6979" stop-color="#004ec2"/><stop offset="0.7188" stop-color="#004ec2"/><stop offset="0.7396" stop-color="#004ec2"/><stop offset="0.7604" stop-color="#004ec2"/><stop offset="0.7812" stop-color="#004ec2"/><stop offset="0.8021" stop-color="#004ec2"/><stop offset="0.8229" stop-color="#004ec2"/><stop offset="0.8438" stop-color="#004ec2"/><stop offset="0.8646" stop-color="#004ec2"/><stop offset="0.8854" stop-color="#004ec2"/><stop offset="0.9062" stop-color="#004ec2"/><stop offset="0.9271" stop-color="#004ec2"/><stop offset="0.9479" stop-color="#004ec2"/><stop offset="0.9688" stop-color="#004ec2"/><stop offset="0.9896" stop-color="#004ec2"/></linearGradient>
<linearGradient id="g21" gradientUnits="userSpaceOnUse" x1="164.0" y1="0" x2="1836.0" y2="0"><stop offset="0.0104" stop-color="#0976e5"/><stop offset="0.0312" stop-color="#0976e5"/><stop offset="0.0521" stop-color="#0976e5"/><stop offset="0.0729" stop-color="#0976e5"/><stop offset="0.0938" stop-color="#0976e5"/><stop offset="0.1146" stop-color="#0976e5"/><stop offset="0.1354" stop-color="#0976e5"/><stop offset="0.1562" stop-color="#0976e5"/><stop offset="0.1771" stop-color="#0976e5"/><stop offset="0.1979" stop-color="#0976e5"/><stop offset="0.2188" stop-color="#0976e5"/><stop offset="0.2396" stop-color="#0976e5"/><stop offset="0.2604" stop-color="#0976e5"/><stop offset="0.2812" stop-color="#0976e5"/><stop offset="0.3021" stop-color="#0872e2"/><stop offset="0.3229" stop-color="#1f93f7"/><stop offset="0.3438" stop-color="#1f93f7"/><stop offset="0.3646" stop-color="#0050c4"/><stop offset="0.3854" stop-color="#003fb3"/><stop offset="0.4062" stop-color="#035fd2"/><stop offset="0.4271" stop-color="#0b7bea"/><stop offset="0.4479" stop-color="#188ef6"/><stop offset="0.4688" stop-color="#91cfff"/><stop offset="0.4896" stop-color="#e5f3ff"/><stop offset="0.5104" stop-color="#d4ecff"/><stop offset="0.5312" stop-color="#4daefd"/><stop offset="0.5521" stop-color="#0870e0"/><stop offset="0.5729" stop-color="#003aae"/><stop offset="0.5938" stop-color="#003aae"/><stop offset="0.6146" stop-color="#003aae"/><stop offset="0.6354" stop-color="#003aae"/><stop offset="0.6562" stop-color="#003aae"/><stop offset="0.6771" stop-color="#004bbf"/><stop offset="0.6979" stop-color="#004bbf"/><stop offset="0.7188" stop-color="#004bbf"/><stop offset="0.7396" stop-color="#004bbf"/><stop offset="0.7604" stop-color="#004bbf"/><stop offset="0.7812" stop-color="#004bbf"/><stop offset="0.8021" stop-color="#004bbf"/><stop offset="0.8229" stop-color="#004bbf"/><stop offset="0.8438" stop-color="#004bbf"/><stop offset="0.8646" stop-color="#004bbf"/><stop offset="0.8854" stop-color="#004bbf"/><stop offset="0.9062" stop-color="#004bbf"/><stop offset="0.9271" stop-color="#004bbf"/><stop offset="0.9479" stop-color="#004bbf"/><stop offset="0.9688" stop-color="#004bbf"/><stop offset="0.9896" stop-color="#004bbf"/></linearGradient>
<linearGradient id="g22" gradientUnits="userSpaceOnUse" x1="164.0" y1="0" x2="1836.0" y2="0"><stop offset="0.0104" stop-color="#076edf"/><stop offset="0.0312" stop-color="#076edf"/><stop offset="0.0521" stop-color="#076edf"/><stop offset="0.0729" stop-color="#076edf"/><stop offset="0.0938" stop-color="#076edf"/><stop offset="0.1146" stop-color="#076edf"/><stop offset="0.1354" stop-color="#076edf"/><stop offset="0.1562" stop-color="#076edf"/><stop offset="0.1771" stop-color="#076edf"/><stop offset="0.1979" stop-color="#076edf"/><stop offset="0.2188" stop-color="#076edf"/><stop offset="0.2396" stop-color="#076edf"/><stop offset="0.2604" stop-color="#076edf"/><stop offset="0.2812" stop-color="#076edf"/><stop offset="0.3021" stop-color="#0463d5"/><stop offset="0.3229" stop-color="#0e83f0"/><stop offset="0.3438" stop-color="#0e83f0"/><stop offset="0.3646" stop-color="#076edf"/><stop offset="0.3854" stop-color="#003db1"/><stop offset="0.4062" stop-color="#0048bc"/><stop offset="0.4271" stop-color="#0569da"/><stop offset="0.4479" stop-color="#1087f3"/><stop offset="0.4688" stop-color="#abdaff"/><stop offset="0.4896" stop-color="#dcefff"/><stop offset="0.5104" stop-color="#cee9ff"/><stop offset="0.5312" stop-color="#3fa8fc"/><stop offset="0.5521" stop-color="#066cdd"/><stop offset="0.5729" stop-color="#0036aa"/><stop offset="0.5938" stop-color="#0036aa"/><stop offset="0.6146" stop-color="#0036aa"/><stop offset="0.6354" stop-color="#0036aa"/><stop offset="0.6562" stop-color="#0036aa"/><stop offset="0.6771" stop-color="#0049bd"/><stop offset="0.6979" stop-color="#0049bd"/><stop offset="0.7188" stop-color="#0049bd"/><stop offset="0.7396" stop-color="#0049bd"/><stop offset="0.7604" stop-color="#0049bd"/><stop offset="0.7812" stop-color="#0049bd"/><stop offset="0.8021" stop-color="#0049bd"/><stop offset="0.8229" stop-color="#0049bd"/><stop offset="0.8438" stop-color="#0049bd"/><stop offset="0.8646" stop-color="#0049bd"/><stop offset="0.8854" stop-color="#0049bd"/><stop offset="0.9062" stop-color="#0049bd"/><stop offset="0.9271" stop-color="#0049bd"/><stop offset="0.9479" stop-color="#0049bd"/><stop offset="0.9688" stop-color="#0049bd"/><stop offset="0.9896" stop-color="#0049bd"/></linearGradient>
<linearGradient id="g23" gradientUnits="userSpaceOnUse" x1="164.0" y1="0" x2="1836.0" y2="0"><stop offset="0.0104" stop-color="#0569da"/><stop offset="0.0312" stop-color="#0569da"/><stop offset="0.0521" stop-color="#0569da"/><stop offset="0.0729" stop-color="#0569da"/><stop offset="0.0938" stop-color="#0569da"/><stop offset="0.1146" stop-color="#0569da"/><stop offset="0.1354" stop-color="#0569da"/><stop offset="0.1562" stop-color="#0569da"/><stop offset="0.1771" stop-color="#0569da"/><stop offset="0.1979" stop-color="#0569da"/><stop offset="0.2188" stop-color="#0569da"/><stop offset="0.2396" stop-color="#0569da"/><stop offset="0.2604" stop-color="#0569da"/><stop offset="0.2812" stop-color="#0569da"/><stop offset="0.3021" stop-color="#0158cb"/><stop offset="0.3229" stop-color="#0871e1"/><stop offset="0.3438" stop-color="#0871e1"/><stop offset="0.3646" stop-color="#0871e1"/><stop offset="0.3854" stop-color="#0048bc"/><stop offset="0.4062" stop-color="#004abe"/><stop offset="0.4271" stop-color="#0157ca"/><stop offset="0.4479" stop-color="#0d80ed"/><stop offset="0.4688" stop-color="#9ed5ff"/><stop offset="0.4896" stop-color="#c8e7ff"/><stop offset="0.5104" stop-color="#c1e4ff"/><stop offset="0.5312" stop-color="#2194f7"/><stop offset="0.5521" stop-color="#025bce"/><stop offset="0.5729" stop-color="#0032a6"/><stop offset="0.5938" stop-color="#0032a6"/><stop offset="0.6146" stop-color="#0032a6"/><stop offset="0.6354" stop-color="#0032a6"/><stop offset="0.6562" stop-color="#0032a6"/><stop offset="0.6771" stop-color="#0046ba"/><stop offset="0.6979" stop-color="#0046ba"/><stop offset="0.7188" stop-color="#0046ba"/><stop offset="0.7396" stop-color="#0046ba"/><stop offset="0.7604" stop-color="#0046ba"/><stop offset="0.7812" stop-color="#0046ba"/><stop offset="0.8021" stop-color="#0046ba"/><stop offset="0.8229" stop-color="#0046ba"/><stop offset="0.8438" stop-color="#0046ba"/><stop offset="0.8646" stop-color="#0046ba"/><stop offset="0.8854" stop-color="#0046ba"/><stop offset="0.9062" stop-color="#0046ba"/><stop offset="0.9271" stop-color="#0046ba"/><stop offset="0.9479" stop-color="#0046ba"/><stop offset="0.9688" stop-color="#0046ba"/><stop offset="0.9896" stop-color="#0046ba"/></linearGradient>
<linearGradient id="g24" gradientUnits="userSpaceOnUse" x1="164.0" y1="0" x2="1836.0" y2="0"><stop offset="0.0104" stop-color="#0465d7"/><stop offset="0.0312" stop-color="#0465d7"/><stop offset="0.0521" stop-color="#0465d7"/><stop offset="0.0729" stop-color="#0465d7"/><stop offset="0.0938" stop-color="#0465d7"/><stop offset="0.1146" stop-color="#0465d7"/><stop offset="0.1354" stop-color="#0465d7"/><stop offset="0.1562" stop-color="#0465d7"/><stop offset="0.1771" stop-color="#0465d7"/><stop offset="0.1979" stop-color="#0465d7"/><stop offset="0.2188" stop-color="#0465d7"/><stop offset="0.2396" stop-color="#0465d7"/><stop offset="0.2604" stop-color="#0465d7"/><stop offset="0.2812" stop-color="#0465d7"/><stop offset="0.3021" stop-color="#0050c4"/><stop offset="0.3229" stop-color="#0159cc"/><stop offset="0.3438" stop-color="#0159cc"/><stop offset="0.3646" stop-color="#0159cc"/><stop offset="0.3854" stop-color="#035fd2"/><stop offset="0.4062" stop-color="#0565d7"/><stop offset="0.4271" stop-color="#0045b9"/><stop offset="0.4479" stop-color="#0a77e6"/><stop offset="0.4688" stop-color="#6bbeff"/><stop offset="0.4896" stop-color="#9ed5ff"/><stop offset="0.5104" stop-color="#a9d9ff"/><stop offset="0.5312" stop-color="#0a77e6"/><stop offset="0.5521" stop-color="#003cb0"/><stop offset="0.5729" stop-color="#002fa3"/><stop offset="0.5938" stop-color="#002fa3"/><stop offset="0.6146" stop-color="#002fa3"/><stop offset="0.6354" stop-color="#002fa3"/><stop offset="0.6562" stop-color="#002fa3"/><stop offset="0.6771" stop-color="#0042b6"/><stop offset="0.6979" stop-color="#0042b6"/><stop offset="0.7188" stop-color="#0042b6"/><stop offset="0.7396" stop-color="#0042b6"/><stop offset="0.7604" stop-color="#0042b6"/><stop offset="0.7812" stop-color="#0042b6"/><stop offset="0.8021" stop-color="#0042b6"/><stop offset="0.8229" stop-color="#0042b6"/><stop offset="0.8438" stop-color="#0042b6"/><stop offset="0.8646" stop-color="#0042b6"/><stop offset="0.8854" stop-color="#0042b6"/><stop offset="0.9062" stop-color="#0042b6"/><stop offset="0.9271" stop-color="#0042b6"/><stop offset="0.9479" stop-color="#0042b6"/><stop offset="0.9688" stop-color="#0042b6"/><stop offset="0.9896" stop-color="#0042b6"/></linearGradient>
<linearGradient id="g25" gradientUnits="userSpaceOnUse" x1="164.0" y1="0" x2="1836.0" y2="0"><stop offset="0.0104" stop-color="#0361d3"/><stop offset="0.0312" stop-color="#0361d3"/><stop offset="0.0521" stop-color="#0361d3"/><stop offset="0.0729" stop-color="#0361d3"/><stop offset="0.0938" stop-color="#0361d3"/><stop offset="0.1146" stop-color="#0361d3"/><stop offset="0.1354" stop-color="#0361d3"/><stop offset="0.1562" stop-color="#0361d3"/><stop offset="0.1771" stop-color="#0361d3"/><stop offset="0.1979" stop-color="#0361d3"/><stop offset="0.2188" stop-color="#0361d3"/><stop offset="0.2396" stop-color="#0361d3"/><stop offset="0.2604" stop-color="#0361d3"/><stop offset="0.2812" stop-color="#0361d3"/><stop offset="0.3021" stop-color="#0048bc"/><stop offset="0.3229" stop-color="#0048bc"/><stop offset="0.3438" stop-color="#0048bc"/><stop offset="0.3646" stop-color="#0048bc"/><stop offset="0.3854" stop-color="#0566d7"/><stop offset="0.4062" stop-color="#066bdc"/><stop offset="0.4271" stop-color="#0048bc"/><stop offset="0.4479" stop-color="#0568d9"/><stop offset="0.4688" stop-color="#3da6fc"/><stop offset="0.4896" stop-color="#6bbeff"/><stop offset="0.5104" stop-color="#6ebfff"/><stop offset="0.5312" stop-color="#0568d9"/><stop offset="0.5521" stop-color="#002c9f"/><stop offset="0.5729" stop-color="#002c9f"/><stop offset="0.5938" stop-color="#002c9f"/><stop offset="0.6146" stop-color="#002c9f"/><stop offset="0.6354" stop-color="#002c9f"/><stop offset="0.6562" stop-color="#002c9f"/><stop offset="0.6771" stop-color="#003fb3"/><stop offset="0.6979" stop-color="#003fb3"/><stop offset="0.7188" stop-color="#003fb3"/><stop offset="0.7396" stop-color="#003fb3"/><stop offset="0.7604" stop-color="#003fb3"/><stop offset="0.7812" stop-color="#003fb3"/><stop offset="0.8021" stop-color="#003fb3"/><stop offset="0.8229" stop-color="#003fb3"/><stop offset="0.8438" stop-color="#003fb3"/><stop offset="0.8646" stop-color="#003fb3"/><stop offset="0.8854" stop-color="#003fb3"/><stop offset="0.9062" stop-color="#003fb3"/><stop offset="0.9271" stop-color="#003fb3"/><stop offset="0.9479" stop-color="#003fb3"/><stop offset="0.9688" stop-color="#003fb3"/><stop offset="0.9896" stop-color="#003fb3"/></linearGradient>
<linearGradient id="g26" gradientUnits="userSpaceOnUse" x1="164.0" y1="0" x2="1836.0" y2="0"><stop offset="0.0104" stop-color="#035dd0"/><stop offset="0.0312" stop-color="#035dd0"/><stop offset="0.0521" stop-color="#035dd0"/><stop offset="0.0729" stop-color="#035dd0"/><stop offset="0.0938" stop-color="#035dd0"/><stop offset="0.1146" stop-color="#035dd0"/><stop offset="0.1354" stop-color="#035dd0"/><stop offset="0.1562" stop-color="#035dd0"/><stop offset="0.1771" stop-color="#035dd0"/><stop offset="0.1979" stop-color="#035dd0"/><stop offset="0.2188" stop-color="#035dd0"/><stop offset="0.2396" stop-color="#035dd0"/><stop offset="0.2604" stop-color="#035dd0"/><stop offset="0.2812" stop-color="#035dd0"/><stop offset="0.3021" stop-color="#0040b4"/><stop offset="0.3229" stop-color="#0040b4"/><stop offset="0.3438" stop-color="#0040b4"/><stop offset="0.3646" stop-color="#0040b4"/><stop offset="0.3854" stop-color="#025ccf"/><stop offset="0.4062" stop-color="#035ed1"/><stop offset="0.4271" stop-color="#035fd2"/><stop offset="0.4479" stop-color="#0053c7"/><stop offset="0.4688" stop-color="#1a8ff6"/><stop offset="0.4896" stop-color="#3da6fc"/><stop offset="0.5104" stop-color="#2697f8"/><stop offset="0.5312" stop-color="#0462d4"/><stop offset="0.5521" stop-color="#00299c"/><stop offset="0.5729" stop-color="#00299c"/><stop offset="0.5938" stop-color="#00299c"/><stop offset="0.6146" stop-color="#00299c"/><stop offset="0.6354" stop-color="#00299c"/><stop offset="0.6562" stop-color="#00299c"/><stop offset="0.6771" stop-color="#003db1"/><stop offset="0.6979" stop-color="#003db1"/><stop offset="0.7188" stop-color="#003db1"/><stop offset="0.7396" stop-color="#003db1"/><stop offset="0.7604" stop-color="#003db1"/><stop offset="0.7812" stop-color="#003db1"/><stop offset="0.8021" stop-color="#003db1"/><stop offset="0.8229" stop-color="#003db1"/><stop offset="0.8438" stop-color="#003db1"/><stop offset="0.8646" stop-color="#003db1"/><stop offset="0.8854" stop-color="#003db1"/><stop offset="0.9062" stop-color="#003db1"/><stop offset="0.9271" stop-color="#003db1"/><stop offset="0.9479" stop-color="#003db1"/><stop offset="0.9688" stop-color="#003db1"/><stop offset="0.9896" stop-color="#003db1"/></linearGradient>
<linearGradient id="g27" gradientUnits="userSpaceOnUse" x1="164.0" y1="0" x2="1836.0" y2="0"><stop offset="0.0104" stop-color="#0159cc"/><stop offset="0.0312" stop-color="#0159cc"/><stop offset="0.0521" stop-color="#0159cc"/><stop offset="0.0729" stop-color="#0159cc"/><stop offset="0.0938" stop-color="#0159cc"/><stop offset="0.1146" stop-color="#0159cc"/><stop offset="0.1354" stop-color="#0159cc"/><stop offset="0.1562" stop-color="#0159cc"/><stop offset="0.1771" stop-color="#0159cc"/><stop offset="0.1979" stop-color="#0159cc"/><stop offset="0.2188" stop-color="#0159cc"/><stop offset="0.2396" stop-color="#0159cc"/><stop offset="0.2604" stop-color="#0159cc"/><stop offset="0.2812" stop-color="#0159cc"/><stop offset="0.3021" stop-color="#0039ad"/><stop offset="0.3229" stop-color="#0039ad"/><stop offset="0.3438" stop-color="#0039ad"/><stop offset="0.3646" stop-color="#0039ad"/><stop offset="0.3854" stop-color="#004ec2"/><stop offset="0.4062" stop-color="#004ec2"/><stop offset="0.4271" stop-color="#0568d9"/><stop offset="0.4479" stop-color="#0158cb"/><stop offset="0.4688" stop-color="#1289f4"/><stop offset="0.4896" stop-color="#2b9bf9"/><stop offset="0.5104" stop-color="#0e82ef"/><stop offset="0.5312" stop-color="#035dd0"/><stop offset="0.5521" stop-color="#002699"/><stop offset="0.5729" stop-color="#002699"/><stop offset="0.5938" stop-color="#002699"/><stop offset="0.6146" stop-color="#002699"/><stop offset="0.6354" stop-color="#002699"/><stop offset="0.6562" stop-color="#002699"/><stop offset="0.6771" stop-color="#003baf"/><stop offset="0.6979" stop-color="#003baf"/><stop offset="0.7188" stop-color="#003baf"/><stop offset="0.7396" stop-color="#003baf"/><stop offset="0.7604" stop-color="#003baf"/><stop offset="0.7812" stop-color="#003baf"/><stop offset="0.8021" stop-color="#003baf"/><stop offset="0.8229" stop-color="#003baf"/><stop offset="0.8438" stop-color="#003baf"/><stop offset="0.8646" stop-color="#003baf"/><stop offset="0.8854" stop-color="#003baf"/><stop offset="0.9062" stop-color="#003baf"/><stop offset="0.9271" stop-color="#003baf"/><stop offset="0.9479" stop-color="#003baf"/><stop offset="0.9688" stop-color="#003baf"/><stop offset="0.9896" stop-color="#003baf"/></linearGradient>
<linearGradient id="g28" gradientUnits="userSpaceOnUse" x1="164.0" y1="0" x2="1836.0" y2="0"><stop offset="0.0104" stop-color="#0053c7"/><stop offset="0.0312" stop-color="#0053c7"/><stop offset="0.0521" stop-color="#0053c7"/><stop offset="0.0729" stop-color="#0053c7"/><stop offset="0.0938" stop-color="#0053c7"/><stop offset="0.1146" stop-color="#0053c7"/><stop offset="0.1354" stop-color="#0053c7"/><stop offset="0.1562" stop-color="#0053c7"/><stop offset="0.1771" stop-color="#0053c7"/><stop offset="0.1979" stop-color="#0053c7"/><stop offset="0.2188" stop-color="#0053c7"/><stop offset="0.2396" stop-color="#0053c7"/><stop offset="0.2604" stop-color="#0053c7"/><stop offset="0.2812" stop-color="#0053c7"/><stop offset="0.3021" stop-color="#0033a7"/><stop offset="0.3229" stop-color="#0033a7"/><stop offset="0.3438" stop-color="#0033a7"/><stop offset="0.3646" stop-color="#0033a7"/><stop offset="0.3854" stop-color="#003aae"/><stop offset="0.4062" stop-color="#003aae"/><stop offset="0.4271" stop-color="#0462d4"/><stop offset="0.4479" stop-color="#0976e5"/><stop offset="0.4688" stop-color="#2295f8"/><stop offset="0.4896" stop-color="#2b9bf9"/><stop offset="0.5104" stop-color="#0c7cea"/><stop offset="0.5312" stop-color="#015acd"/><stop offset="0.5521" stop-color="#002597"/><stop offset="0.5729" stop-color="#002597"/><stop offset="0.5938" stop-color="#002597"/><stop offset="0.6146" stop-color="#002597"/><stop offset="0.6354" stop-color="#002597"/><stop offset="0.6562" stop-color="#002597"/><stop offset="0.6771" stop-color="#0039ad"/><stop offset="0.6979" stop-color="#0039ad"/><stop offset="0.7188" stop-color="#0039ad"/><stop offset="0.7396" stop-color="#0039ad"/><stop offset="0.7604" stop-color="#0039ad"/><stop offset="0.7812" stop-color="#0039ad"/><stop offset="0.8021" stop-color="#0039ad"/><stop offset="0.8229" stop-color="#0039ad"/><stop offset="0.8438" stop-color="#0039ad"/><stop offset="0.8646" stop-color="#0039ad"/><stop offset="0.8854" stop-color="#0039ad"/><stop offset="0.9062" stop-color="#0039ad"/><stop offset="0.9271" stop-color="#0039ad"/><stop offset="0.9479" stop-color="#0039ad"/><stop offset="0.9688" stop-color="#0039ad"/><stop offset="0.9896" stop-color="#0039ad"/></linearGradient>
<linearGradient id="g29" gradientUnits="userSpaceOnUse" x1="164.0" y1="0" x2="1836.0" y2="0"><stop offset="0.0104" stop-color="#0041b5"/><stop offset="0.0312" stop-color="#0041b5"/><stop offset="0.0521" stop-color="#0041b5"/><stop offset="0.0729" stop-color="#0041b5"/><stop offset="0.0938" stop-color="#0041b5"/><stop offset="0.1146" stop-color="#0041b5"/><stop offset="0.1354" stop-color="#0041b5"/><stop offset="0.1562" stop-color="#0041b5"/><stop offset="0.1771" stop-color="#0041b5"/><stop offset="0.1979" stop-color="#0041b5"/><stop offset="0.2188" stop-color="#0041b5"/><stop offset="0.2396" stop-color="#0041b5"/><stop offset="0.2604" stop-color="#0041b5"/><stop offset="0.2812" stop-color="#0041b5"/><stop offset="0.3021" stop-color="#002b9e"/><stop offset="0.3229" stop-color="#002b9e"/><stop offset="0.3438" stop-color="#002b9e"/><stop offset="0.3646" stop-color="#002b9e"/><stop offset="0.3854" stop-color="#002b9e"/><stop offset="0.4062" stop-color="#002b9e"/><stop offset="0.4271" stop-color="#004dc1"/><stop offset="0.4479" stop-color="#0b7bea"/><stop offset="0.4688" stop-color="#1289f4"/><stop offset="0.4896" stop-color="#1289f4"/><stop offset="0.5104" stop-color="#0870e0"/><stop offset="0.5312" stop-color="#0053c7"/><stop offset="0.5521" stop-color="#002295"/><stop offset="0.5729" stop-color="#002295"/><stop offset="0.5938" stop-color="#002295"/><stop offset="0.6146" stop-color="#002295"/><stop offset="0.6354" stop-color="#002295"/><stop offset="0.6562" stop-color="#002295"/><stop offset="0.6771" stop-color="#0036aa"/><stop offset="0.6979" stop-color="#0036aa"/><stop offset="0.7188" stop-color="#0036aa"/><stop offset="0.7396" stop-color="#0036aa"/><stop offset="0.7604" stop-color="#0036aa"/><stop offset="0.7812" stop-color="#0036aa"/><stop offset="0.8021" stop-color="#0036aa"/><stop offset="0.8229" stop-color="#0036aa"/><stop offset="0.8438" stop-color="#0036aa"/><stop offset="0.8646" stop-color="#0036aa"/><stop offset="0.8854" stop-color="#0036aa"/><stop offset="0.9062" stop-color="#0036aa"/><stop offset="0.9271" stop-color="#0036aa"/><stop offset="0.9479" stop-color="#0036aa"/><stop offset="0.9688" stop-color="#0036aa"/><stop offset="0.9896" stop-color="#0036aa"/></linearGradient>
<linearGradient id="g30" gradientUnits="userSpaceOnUse" x1="164.0" y1="0" x2="1836.0" y2="0"><stop offset="0.0104" stop-color="#002699"/><stop offset="0.0312" stop-color="#002699"/><stop offset="0.0521" stop-color="#002699"/><stop offset="0.0729" stop-color="#002699"/><stop offset="0.0938" stop-color="#002699"/><stop offset="0.1146" stop-color="#002699"/><stop offset="0.1354" stop-color="#002699"/><stop offset="0.1562" stop-color="#002699"/><stop offset="0.1771" stop-color="#002699"/><stop offset="0.1979" stop-color="#002699"/><stop offset="0.2188" stop-color="#002699"/><stop offset="0.2396" stop-color="#002699"/><stop offset="0.2604" stop-color="#002699"/><stop offset="0.2812" stop-color="#002699"/><stop offset="0.3021" stop-color="#002092"/><stop offset="0.3229" stop-color="#002092"/><stop offset="0.3438" stop-color="#002092"/><stop offset="0.3646" stop-color="#002092"/><stop offset="0.3854" stop-color="#002092"/><stop offset="0.4062" stop-color="#002092"/><stop offset="0.4271" stop-color="#00299d"/><stop offset="0.4479" stop-color="#0569da"/><stop offset="0.4688" stop-color="#076dde"/><stop offset="0.4896" stop-color="#076dde"/><stop offset="0.5104" stop-color="#035dd0"/><stop offset="0.5312" stop-color="#0049bd"/><stop offset="0.5521" stop-color="#001f91"/><stop offset="0.5729" stop-color="#001f91"/><stop offset="0.5938" stop-color="#001f91"/><stop offset="0.6146" stop-color="#001f91"/><stop offset="0.6354" stop-color="#001f91"/><stop offset="0.6562" stop-color="#001f91"/><stop offset="0.6771" stop-color="#0032a6"/><stop offset="0.6979" stop-color="#0032a6"/><stop offset="0.7188" stop-color="#0032a6"/><stop offset="0.7396" stop-color="#0032a6"/><stop offset="0.7604" stop-color="#0032a6"/><stop offset="0.7812" stop-color="#0032a6"/><stop offset="0.8021" stop-color="#0032a6"/><stop offset="0.8229" stop-color="#0032a6"/><stop offset="0.8438" stop-color="#0032a6"/><stop offset="0.8646" stop-color="#0032a6"/><stop offset="0.8854" stop-color="#0032a6"/><stop offset="0.9062" stop-color="#0032a6"/><stop offset="0.9271" stop-color="#0032a6"/><stop offset="0.9479" stop-color="#0032a6"/><stop offset="0.9688" stop-color="#0032a6"/><stop offset="0.9896" stop-color="#0032a6"/></linearGradient>
<linearGradient id="g31" gradientUnits="userSpaceOnUse" x1="164.0" y1="0" x2="1836.0" y2="0"><stop offset="0.0104" stop-color="#001889"/><stop offset="0.0312" stop-color="#001889"/><stop offset="0.0521" stop-color="#001889"/><stop offset="0.0729" stop-color="#001889"/><stop offset="0.0938" stop-color="#001889"/><stop offset="0.1146" stop-color="#001889"/><stop offset="0.1354" stop-color="#001889"/><stop offset="0.1562" stop-color="#001889"/><stop offset="0.1771" stop-color="#001889"/><stop offset="0.1979" stop-color="#001889"/><stop offset="0.2188" stop-color="#001889"/><stop offset="0.2396" stop-color="#001889"/><stop offset="0.2604" stop-color="#001889"/><stop offset="0.2812" stop-color="#001889"/><stop offset="0.3021" stop-color="#001889"/><stop offset="0.3229" stop-color="#001889"/><stop offset="0.3438" stop-color="#001889"/><stop offset="0.3646" stop-color="#001889"/><stop offset="0.3854" stop-color="#001889"/><stop offset="0.4062" stop-color="#001889"/><stop offset="0.4271" stop-color="#001889"/><stop offset="0.4479" stop-color="#004abe"/><stop offset="0.4688" stop-color="#0052c6"/><stop offset="0.4896" stop-color="#0052c6"/><stop offset="0.5104" stop-color="#004fc3"/><stop offset="0.5312" stop-color="#0036aa"/><stop offset="0.5521" stop-color="#001b8d"/><stop offset="0.5729" stop-color="#001b8d"/><stop offset="0.5938" stop-color="#001b8d"/><stop offset="0.6146" stop-color="#001b8d"/><stop offset="0.6354" stop-color="#001b8d"/><stop offset="0.6562" stop-color="#001b8d"/><stop offset="0.6771" stop-color="#002ea2"/><stop offset="0.6979" stop-color="#002ea2"/><stop offset="0.7188" stop-color="#002ea2"/><stop offset="0.7396" stop-color="#002ea2"/><stop offset="0.7604" stop-color="#002ea2"/><stop offset="0.7812" stop-color="#002ea2"/><stop offset="0.8021" stop-color="#002ea2"/><stop offset="0.8229" stop-color="#002ea2"/><stop offset="0.8438" stop-color="#002ea2"/><stop offset="0.8646" stop-color="#002ea2"/><stop offset="0.8854" stop-color="#002ea2"/><stop offset="0.9062" stop-color="#002ea2"/><stop offset="0.9271" stop-color="#002ea2"/><stop offset="0.9479" stop-color="#002ea2"/><stop offset="0.9688" stop-color="#002ea2"/><stop offset="0.9896" stop-color="#002ea2"/></linearGradient>
<linearGradient id="g32" gradientUnits="userSpaceOnUse" x1="164.0" y1="0" x2="1836.0" y2="0"><stop offset="0.0104" stop-color="#001583"/><stop offset="0.0312" stop-color="#001583"/><stop offset="0.0521" stop-color="#001583"/><stop offset="0.0729" stop-color="#001583"/><stop offset="0.0938" stop-color="#001583"/><stop offset="0.1146" stop-color="#001583"/><stop offset="0.1354" stop-color="#001583"/><stop offset="0.1562" stop-color="#001583"/><stop offset="0.1771" stop-color="#001583"/><stop offset="0.1979" stop-color="#001583"/><stop offset="0.2188" stop-color="#001583"/><stop offset="0.2396" stop-color="#001583"/><stop offset="0.2604" stop-color="#001583"/><stop offset="0.2812" stop-color="#001583"/><stop offset="0.3021" stop-color="#001583"/><stop offset="0.3229" stop-color="#001583"/><stop offset="0.3438" stop-color="#001583"/><stop offset="0.3646" stop-color="#001583"/><stop offset="0.3854" stop-color="#001583"/><stop offset="0.4062" stop-color="#001583"/><stop offset="0.4271" stop-color="#001583"/><stop offset="0.4479" stop-color="#002396"/><stop offset="0.4688" stop-color="#0036aa"/><stop offset="0.4896" stop-color="#0036aa"/><stop offset="0.5104" stop-color="#0045b9"/><stop offset="0.5312" stop-color="#002093"/><stop offset="0.5521" stop-color="#001888"/><stop offset="0.5729" stop-color="#001888"/><stop offset="0.5938" stop-color="#001888"/><stop offset="0.6146" stop-color="#001888"/><stop offset="0.6354" stop-color="#001888"/><stop offset="0.6562" stop-color="#001888"/><stop offset="0.6771" stop-color="#00299d"/><stop offset="0.6979" stop-color="#00299d"/><stop offset="0.7188" stop-color="#00299d"/><stop offset="0.7396" stop-color="#00299d"/><stop offset="0.7604" stop-color="#00299d"/><stop offset="0.7812" stop-color="#00299d"/><stop offset="0.8021" stop-color="#00299d"/><stop offset="0.8229" stop-color="#00299d"/><stop offset="0.8438" stop-color="#00299d"/><stop offset="0.8646" stop-color="#00299d"/><stop offset="0.8854" stop-color="#00299d"/><stop offset="0.9062" stop-color="#00299d"/><stop offset="0.9271" stop-color="#00299d"/><stop offset="0.9479" stop-color="#00299d"/><stop offset="0.9688" stop-color="#00299d"/><stop offset="0.9896" stop-color="#00299d"/></linearGradient>
<linearGradient id="g33" gradientUnits="userSpaceOnUse" x1="164.0" y1="0" x2="1836.0" y2="0"><stop offset="0.0104" stop-color="#00137f"/><stop offset="0.0312" stop-color="#00137f"/><stop offset="0.0521" stop-color="#00137f"/><stop offset="0.0729" stop-color="#00137f"/><stop offset="0.0938" stop-color="#00137f"/><stop offset="0.1146" stop-color="#00137f"/><stop offset="0.1354" stop-color="#00137f"/><stop offset="0.1562" stop-color="#00137f"/><stop offset="0.1771" stop-color="#00137f"/><stop offset="0.1979" stop-color="#00137f"/><stop offset="0.2188" stop-color="#00137f"/><stop offset="0.2396" stop-color="#00137f"/><stop offset="0.2604" stop-color="#00137f"/><stop offset="0.2812" stop-color="#00137f"/><stop offset="0.3021" stop-color="#00137f"/><stop offset="0.3229" stop-color="#00137f"/><stop offset="0.3438" stop-color="#00137f"/><stop offset="0.3646" stop-color="#00137f"/><stop offset="0.3854" stop-color="#00137f"/><stop offset="0.4062" stop-color="#00137f"/><stop offset="0.4271" stop-color="#00137f"/><stop offset="0.4479" stop-color="#00137f"/><stop offset="0.4688" stop-color="#002396"/><stop offset="0.4896" stop-color="#002396"/><stop offset="0.5104" stop-color="#0032a6"/><stop offset="0.5312" stop-color="#001583"/><stop offset="0.5521" stop-color="#001583"/><stop offset="0.5729" stop-color="#001583"/><stop offset="0.5938" stop-color="#001583"/><stop offset="0.6146" stop-color="#001583"/><stop offset="0.6354" stop-color="#001583"/><stop offset="0.6562" stop-color="#001583"/><stop offset="0.6771" stop-color="#002193"/><stop offset="0.6979" stop-color="#002193"/><stop offset="0.7188" stop-color="#002193"/><stop offset="0.7396" stop-color="#002193"/><stop offset="0.7604" stop-color="#002193"/><stop offset="0.7812" stop-color="#002193"/><stop offset="0.8021" stop-color="#002193"/><stop offset="0.8229" stop-color="#002193"/><stop offset="0.8438" stop-color="#002193"/><stop offset="0.8646" stop-color="#002193"/><stop offset="0.8854" stop-color="#002193"/><stop offset="0.9062" stop-color="#002193"/><stop offset="0.9271" stop-color="#002193"/><stop offset="0.9479" stop-color="#002193"/><stop offset="0.9688" stop-color="#002193"/><stop offset="0.9896" stop-color="#002193"/></linearGradient>
<linearGradient id="g34" gradientUnits="userSpaceOnUse" x1="164.0" y1="0" x2="1836.0" y2="0"><stop offset="0.0104" stop-color="#00117d"/><stop offset="0.0312" stop-color="#00117d"/><stop offset="0.0521" stop-color="#00117d"/><stop offset="0.0729" stop-color="#00117d"/><stop offset="0.0938" stop-color="#00117d"/><stop offset="0.1146" stop-color="#00117d"/><stop offset="0.1354" stop-color="#00117d"/><stop offset="0.1562" stop-color="#00117d"/><stop offset="0.1771" stop-color="#00117d"/><stop offset="0.1979" stop-color="#00117d"/><stop offset="0.2188" stop-color="#00117d"/><stop offset="0.2396" stop-color="#00117d"/><stop offset="0.2604" stop-color="#00117d"/><stop offset="0.2812" stop-color="#00117d"/><stop offset="0.3021" stop-color="#00117d"/><stop offset="0.3229" stop-color="#00117d"/><stop offset="0.3438" stop-color="#00117d"/><stop offset="0.3646" stop-color="#00117d"/><stop offset="0.3854" stop-color="#00117d"/><stop offset="0.4062" stop-color="#00117d"/><stop offset="0.4271" stop-color="#00117d"/><stop offset="0.4479" stop-color="#00117d"/><stop offset="0.4688" stop-color="#001686"/><stop offset="0.4896" stop-color="#001686"/><stop offset="0.5104" stop-color="#001a8c"/><stop offset="0.5312" stop-color="#00127e"/><stop offset="0.5521" stop-color="#00127e"/><stop offset="0.5729" stop-color="#00127e"/><stop offset="0.5938" stop-color="#00127e"/><stop offset="0.6146" stop-color="#00127e"/><stop offset="0.6354" stop-color="#00127e"/><stop offset="0.6562" stop-color="#00127e"/><stop offset="0.6771" stop-color="#001684"/><stop offset="0.6979" stop-color="#001684"/><stop offset="0.7188" stop-color="#001684"/><stop offset="0.7396" stop-color="#001684"/><stop offset="0.7604" stop-color="#001684"/><stop offset="0.7812" stop-color="#001684"/><stop offset="0.8021" stop-color="#001684"/><stop offset="0.8229" stop-color="#001684"/><stop offset="0.8438" stop-color="#001684"/><stop offset="0.8646" stop-color="#001684"/><stop offset="0.8854" stop-color="#001684"/><stop offset="0.9062" stop-color="#001684"/><stop offset="0.9271" stop-color="#001684"/><stop offset="0.9479" stop-color="#001684"/><stop offset="0.9688" stop-color="#001684"/><stop offset="0.9896" stop-color="#001684"/></linearGradient>
<linearGradient id="g35" gradientUnits="userSpaceOnUse" x1="164.0" y1="0" x2="1836.0" y2="0"><stop offset="0.0104" stop-color="#00107a"/><stop offset="0.0312" stop-color="#00107a"/><stop offset="0.0521" stop-color="#00107a"/><stop offset="0.0729" stop-color="#00107a"/><stop offset="0.0938" stop-color="#00107a"/><stop offset="0.1146" stop-color="#00107a"/><stop offset="0.1354" stop-color="#00107a"/><stop offset="0.1562" stop-color="#00107a"/><stop offset="0.1771" stop-color="#00107a"/><stop offset="0.1979" stop-color="#00107a"/><stop offset="0.2188" stop-color="#00107a"/><stop offset="0.2396" stop-color="#00107a"/><stop offset="0.2604" stop-color="#00107a"/><stop offset="0.2812" stop-color="#00107a"/><stop offset="0.3021" stop-color="#00107a"/><stop offset="0.3229" stop-color="#00107a"/><stop offset="0.3438" stop-color="#00107a"/><stop offset="0.3646" stop-color="#00107a"/><stop offset="0.3854" stop-color="#00107a"/><stop offset="0.4062" stop-color="#00107a"/><stop offset="0.4271" stop-color="#00107a"/><stop offset="0.4479" stop-color="#00107a"/><stop offset="0.4688" stop-color="#00107a"/><stop offset="0.4896" stop-color="#00107a"/><stop offset="0.5104" stop-color="#00107a"/><stop offset="0.5312" stop-color="#00107a"/><stop offset="0.5521" stop-color="#00107a"/><stop offset="0.5729" stop-color="#00107a"/><stop offset="0.5938" stop-color="#00107a"/><stop offset="0.6146" stop-color="#00107a"/><stop offset="0.6354" stop-color="#00107a"/><stop offset="0.6562" stop-color="#00107a"/><stop offset="0.6771" stop-color="#00107a"/><stop offset="0.6979" stop-color="#00107a"/><stop offset="0.7188" stop-color="#00107a"/><stop offset="0.7396" stop-color="#00107a"/><stop offset="0.7604" stop-color="#00107a"/><stop offset="0.7812" stop-color="#00107a"/><stop offset="0.8021" stop-color="#00107a"/><stop offset="0.8229" stop-color="#00107a"/><stop offset="0.8438" stop-color="#00107a"/><stop offset="0.8646" stop-color="#00107a"/><stop offset="0.8854" stop-color="#00107a"/><stop offset="0.9062" stop-color="#00107a"/><stop offset="0.9271" stop-color="#00107a"/><stop offset="0.9479" stop-color="#00107a"/><stop offset="0.9688" stop-color="#00107a"/><stop offset="0.9896" stop-color="#00107a"/></linearGradient>
<linearGradient id="g36" gradientUnits="userSpaceOnUse" x1="164.0" y1="0" x2="1836.0" y2="0"><stop offset="0.0104" stop-color="#000f78"/><stop offset="0.0312" stop-color="#000f78"/><stop offset="0.0521" stop-color="#000f78"/><stop offset="0.0729" stop-color="#000f78"/><stop offset="0.0938" stop-color="#000f78"/><stop offset="0.1146" stop-color="#000f78"/><stop offset="0.1354" stop-color="#000f78"/><stop offset="0.1562" stop-color="#000f78"/><stop offset="0.1771" stop-color="#000f78"/><stop offset="0.1979" stop-color="#000f78"/><stop offset="0.2188" stop-color="#000f78"/><stop offset="0.2396" stop-color="#000f78"/><stop offset="0.2604" stop-color="#000f78"/><stop offset="0.2812" stop-color="#000f78"/><stop offset="0.3021" stop-color="#000f78"/><stop offset="0.3229" stop-color="#000f78"/><stop offset="0.3438" stop-color="#000f78"/><stop offset="0.3646" stop-color="#000f78"/><stop offset="0.3854" stop-color="#000f78"/><stop offset="0.4062" stop-color="#000f78"/><stop offset="0.4271" stop-color="#000f78"/><stop offset="0.4479" stop-color="#000f78"/><stop offset="0.4688" stop-color="#000f78"/><stop offset="0.4896" stop-color="#000f78"/><stop offset="0.5104" stop-color="#000f78"/><stop offset="0.5312" stop-color="#000f78"/><stop offset="0.5521" stop-color="#000f78"/><stop offset="0.5729" stop-color="#000f78"/><stop offset="0.5938" stop-color="#000f78"/><stop offset="0.6146" stop-color="#000f78"/><stop offset="0.6354" stop-color="#000f78"/><stop offset="0.6562" stop-color="#000f78"/><stop offset="0.6771" stop-color="#000f78"/><stop offset="0.6979" stop-color="#000f78"/><stop offset="0.7188" stop-color="#000f78"/><stop offset="0.7396" stop-color="#000f78"/><stop offset="0.7604" stop-color="#000f78"/><stop offset="0.7812" stop-color="#000f78"/><stop offset="0.8021" stop-color="#000f78"/><stop offset="0.8229" stop-color="#000f78"/><stop offset="0.8438" stop-color="#000f78"/><stop offset="0.8646" stop-color="#000f78"/><stop offset="0.8854" stop-color="#000f78"/><stop offset="0.9062" stop-color="#000f78"/><stop offset="0.9271" stop-color="#000f78"/><stop offset="0.9479" stop-color="#000f78"/><stop offset="0.9688" stop-color="#000f78"/><stop offset="0.9896" stop-color="#000f78"/></linearGradient>
<linearGradient id="g37" gradientUnits="userSpaceOnUse" x1="164.0" y1="0" x2="1836.0" y2="0"><stop offset="0.0104" stop-color="#000e77"/><stop offset="0.0312" stop-color="#000e77"/><stop offset="0.0521" stop-color="#000e77"/><stop offset="0.0729" stop-color="#000e77"/><stop offset="0.0938" stop-color="#000e77"/><stop offset="0.1146" stop-color="#000e77"/><stop offset="0.1354" stop-color="#000e77"/><stop offset="0.1562" stop-color="#000e77"/><stop offset="0.1771" stop-color="#000e77"/><stop offset="0.1979" stop-color="#000e77"/><stop offset="0.2188" stop-color="#000e77"/><stop offset="0.2396" stop-color="#000e77"/><stop offset="0.2604" stop-color="#000e77"/><stop offset="0.2812" stop-color="#000e77"/><stop offset="0.3021" stop-color="#000e77"/><stop offset="0.3229" stop-color="#000e77"/><stop offset="0.3438" stop-color="#000e77"/><stop offset="0.3646" stop-color="#000e77"/><stop offset="0.3854" stop-color="#000e77"/><stop offset="0.4062" stop-color="#000e77"/><stop offset="0.4271" stop-color="#000e77"/><stop offset="0.4479" stop-color="#000e77"/><stop offset="0.4688" stop-color="#000e77"/><stop offset="0.4896" stop-color="#000e77"/><stop offset="0.5104" stop-color="#000e77"/><stop offset="0.5312" stop-color="#000e77"/><stop offset="0.5521" stop-color="#000e77"/><stop offset="0.5729" stop-color="#000e77"/><stop offset="0.5938" stop-color="#000e77"/><stop offset="0.6146" stop-color="#000e77"/><stop offset="0.6354" stop-color="#000e77"/><stop offset="0.6562" stop-color="#000e77"/><stop offset="0.6771" stop-color="#000e77"/><stop offset="0.6979" stop-color="#000e77"/><stop offset="0.7188" stop-color="#000e77"/><stop offset="0.7396" stop-color="#000e77"/><stop offset="0.7604" stop-color="#000e77"/><stop offset="0.7812" stop-color="#000e77"/><stop offset="0.8021" stop-color="#000e77"/><stop offset="0.8229" stop-color="#000e77"/><stop offset="0.8438" stop-color="#000e77"/><stop offset="0.8646" stop-color="#000e77"/><stop offset="0.8854" stop-color="#000e77"/><stop offset="0.9062" stop-color="#000e77"/><stop offset="0.9271" stop-color="#000e77"/><stop offset="0.9479" stop-color="#000e77"/><stop offset="0.9688" stop-color="#000e77"/><stop offset="0.9896" stop-color="#000e77"/></linearGradient>
<linearGradient id="g38" gradientUnits="userSpaceOnUse" x1="164.0" y1="0" x2="1836.0" y2="0"><stop offset="0.0104" stop-color="#000e77"/><stop offset="0.0312" stop-color="#000e77"/><stop offset="0.0521" stop-color="#000e77"/><stop offset="0.0729" stop-color="#000e77"/><stop offset="0.0938" stop-color="#000e77"/><stop offset="0.1146" stop-color="#000e77"/><stop offset="0.1354" stop-color="#000e77"/><stop offset="0.1562" stop-color="#000e77"/><stop offset="0.1771" stop-color="#000e77"/><stop offset="0.1979" stop-color="#000e77"/><stop offset="0.2188" stop-color="#000e77"/><stop offset="0.2396" stop-color="#000e77"/><stop offset="0.2604" stop-color="#000e77"/><stop offset="0.2812" stop-color="#000e77"/><stop offset="0.3021" stop-color="#000e77"/><stop offset="0.3229" stop-color="#000e77"/><stop offset="0.3438" stop-color="#000e77"/><stop offset="0.3646" stop-color="#000e77"/><stop offset="0.3854" stop-color="#000e77"/><stop offset="0.4062" stop-color="#000e77"/><stop offset="0.4271" stop-color="#000e77"/><stop offset="0.4479" stop-color="#000e77"/><stop offset="0.4688" stop-color="#000e77"/><stop offset="0.4896" stop-color="#000e77"/><stop offset="0.5104" stop-color="#000e77"/><stop offset="0.5312" stop-color="#000e77"/><stop offset="0.5521" stop-color="#000e77"/><stop offset="0.5729" stop-color="#000e77"/><stop offset="0.5938" stop-color="#000e77"/><stop offset="0.6146" stop-color="#000e77"/><stop offset="0.6354" stop-color="#000e77"/><stop offset="0.6562" stop-color="#000e77"/><stop offset="0.6771" stop-color="#000e77"/><stop offset="0.6979" stop-color="#000e77"/><stop offset="0.7188" stop-color="#000e77"/><stop offset="0.7396" stop-color="#000e77"/><stop offset="0.7604" stop-color="#000e77"/><stop offset="0.7812" stop-color="#000e77"/><stop offset="0.8021" stop-color="#000e77"/><stop offset="0.8229" stop-color="#000e77"/><stop offset="0.8438" stop-color="#000e77"/><stop offset="0.8646" stop-color="#000e77"/><stop offset="0.8854" stop-color="#000e77"/><stop offset="0.9062" stop-color="#000e77"/><stop offset="0.9271" stop-color="#000e77"/><stop offset="0.9479" stop-color="#000e77"/><stop offset="0.9688" stop-color="#000e77"/><stop offset="0.9896" stop-color="#000e77"/></linearGradient>
<linearGradient id="g39" gradientUnits="userSpaceOnUse" x1="164.0" y1="0" x2="1836.0" y2="0"><stop offset="0.0104" stop-color="#000e77"/><stop offset="0.0312" stop-color="#000e77"/><stop offset="0.0521" stop-color="#000e77"/><stop offset="0.0729" stop-color="#000e77"/><stop offset="0.0938" stop-color="#000e77"/><stop offset="0.1146" stop-color="#000e77"/><stop offset="0.1354" stop-color="#000e77"/><stop offset="0.1562" stop-color="#000e77"/><stop offset="0.1771" stop-color="#000e77"/><stop offset="0.1979" stop-color="#000e77"/><stop offset="0.2188" stop-color="#000e77"/><stop offset="0.2396" stop-color="#000e77"/><stop offset="0.2604" stop-color="#000e77"/><stop offset="0.2812" stop-color="#000e77"/><stop offset="0.3021" stop-color="#000e77"/><stop offset="0.3229" stop-color="#000e77"/><stop offset="0.3438" stop-color="#000e77"/><stop offset="0.3646" stop-color="#000e77"/><stop offset="0.3854" stop-color="#000e77"/><stop offset="0.4062" stop-color="#000e77"/><stop offset="0.4271" stop-color="#000e77"/><stop offset="0.4479" stop-color="#000e77"/><stop offset="0.4688" stop-color="#000e77"/><stop offset="0.4896" stop-color="#000e77"/><stop offset="0.5104" stop-color="#000e77"/><stop offset="0.5312" stop-color="#000e77"/><stop offset="0.5521" stop-color="#000e77"/><stop offset="0.5729" stop-color="#000e77"/><stop offset="0.5938" stop-color="#000e77"/><stop offset="0.6146" stop-color="#000e77"/><stop offset="0.6354" stop-color="#000e77"/><stop offset="0.6562" stop-color="#000e77"/><stop offset="0.6771" stop-color="#000e77"/><stop offset="0.6979" stop-color="#000e77"/><stop offset="0.7188" stop-color="#000e77"/><stop offset="0.7396" stop-color="#000e77"/><stop offset="0.7604" stop-color="#000e77"/><stop offset="0.7812" stop-color="#000e77"/><stop offset="0.8021" stop-color="#000e77"/><stop offset="0.8229" stop-color="#000e77"/><stop offset="0.8438" stop-color="#000e77"/><stop offset="0.8646" stop-color="#000e77"/><stop offset="0.8854" stop-color="#000e77"/><stop offset="0.9062" stop-color="#000e77"/><stop offset="0.9271" stop-color="#000e77"/><stop offset="0.9479" stop-color="#000e77"/><stop offset="0.9688" stop-color="#000e77"/><stop offset="0.9896" stop-color="#000e77"/></linearGradient>
<filter id="spk" filterUnits="userSpaceOnUse" x="164" y="67" width="1672" height="535" color-interpolation-filters="sRGB">
<feTurbulence type="fractalNoise" baseFrequency="0.42 0.2" numOctaves="2" seed="11" result="t"/>
<feColorMatrix in="t" type="matrix" values="0 0 0 0 0  0 0 0 0 0  0 0 0 0 0.02  -8 0 0 0 4.0" result="dk"/>
<feColorMatrix in="t" type="matrix" values="0 0 0 0 0.12  0 0 0 0 0.36  0 0 0 0 0.90  0 7 0 0 -3.55" result="br"/>
<feMerge><feMergeNode in="dk"/><feMergeNode in="br"/></feMerge>
</filter>
<filter id="inv" filterUnits="userSpaceOnUse" x="100" y="20" width="1800" height="640" color-interpolation-filters="sRGB">
<feColorMatrix type="matrix" values="-0.956 -3.219 -0.324 0 1.9  -0.956 -3.219 -0.324 0 1.9  -0.956 -3.219 -0.324 0 1.9  0 0 0 0 1"/>
</filter>
<mask id="dmask" maskUnits="userSpaceOnUse" x="100" y="20" width="1800" height="640"><use href="#grid" filter="url(#inv)"/></mask>
<filter id="strk" filterUnits="userSpaceOnUse" x="164" y="67" width="1672" height="535" color-interpolation-filters="sRGB">
<feTurbulence type="fractalNoise" baseFrequency="0.006 0.3" numOctaves="2" seed="3"/>
<feColorMatrix type="matrix" values="0 0 0 0 0.42  0 0 0 0 0.70  0 0 0 0 0.96  -6 0 0 0 3.0"/>
</filter>
<filter id="brt" filterUnits="userSpaceOnUse" x="100" y="20" width="1800" height="640" color-interpolation-filters="sRGB">
<feColorMatrix type="matrix" values="0.2125 0.7154 0.0721 0 0  0.2125 0.7154 0.0721 0 0  0.2125 0.7154 0.0721 0 0  0 0 0 0 1"/>
<feComponentTransfer><feFuncR type="table" tableValues="0 0 0 0 0 0 0 0 0 0 0 0 0 0.05 0.15 0.35 0.6 0.85 1 0.8 0.3"/><feFuncG type="table" tableValues="0 0 0 0 0 0 0 0 0 0 0 0 0 0.05 0.15 0.35 0.6 0.85 1 0.8 0.3"/><feFuncB type="table" tableValues="0 0 0 0 0 0 0 0 0 0 0 0 0 0.05 0.15 0.35 0.6 0.85 1 0.8 0.3"/></feComponentTransfer>
</filter>
<mask id="bmask" maskUnits="userSpaceOnUse" x="100" y="20" width="1800" height="640"><use href="#grid" filter="url(#brt)"/></mask>
<filter id="otex" filterUnits="userSpaceOnUse" x="300" y="-400" width="1200" height="1400" color-interpolation-filters="sRGB">
<feTurbulence type="fractalNoise" baseFrequency="0.035 0.32" numOctaves="2" seed="21" result="t"/>
<feColorMatrix in="t" type="matrix" values="0 0 0 0 0.03  0 0 0 0 0.30  0 0 0 0 0.75  -7 0 0 0 3.05" result="dk"/>
<feColorMatrix in="t" type="matrix" values="0 0 0 0 0.75  0 0 0 0 0.88  0 0 0 0 1  0 7 0 0 -3.1" result="lt"/>
<feMerge><feMergeNode in="dk"/><feMergeNode in="lt"/></feMerge>
</filter>
<filter id="midb" filterUnits="userSpaceOnUse" x="100" y="20" width="1800" height="640" color-interpolation-filters="sRGB">
<feColorMatrix type="matrix" values="0.2125 0.7154 0.0721 0 0  0.2125 0.7154 0.0721 0 0  0.2125 0.7154 0.0721 0 0  0 0 0 0 1"/>
<feComponentTransfer><feFuncR type="table" tableValues="0 0 0 0.3 0.9 1 0.8 0.4 0.1 0 0"/><feFuncG type="table" tableValues="0 0 0 0.3 0.9 1 0.8 0.4 0.1 0 0"/><feFuncB type="table" tableValues="0 0 0 0.3 0.9 1 0.8 0.4 0.1 0 0"/></feComponentTransfer>
</filter>
<mask id="mmask" maskUnits="userSpaceOnUse" x="100" y="20" width="1800" height="640"><use href="#grid" filter="url(#midb)"/></mask>
<filter id="eb" filterUnits="userSpaceOnUse" x="100" y="20" width="1800" height="640"><feGaussianBlur stdDeviation="25"/></filter><mask id="ovm" maskUnits="userSpaceOnUse" x="100" y="20" width="1800" height="640"><ellipse cx="860" cy="285" rx="190" ry="170" fill="#fff" filter="url(#eb)"/></mask>
<filter id="dstrk" filterUnits="userSpaceOnUse" x="1060" y="160" width="400" height="360" color-interpolation-filters="sRGB">
<feTurbulence type="fractalNoise" baseFrequency="0.05 0.5" numOctaves="2" seed="9"/>
<feColorMatrix type="matrix" values="0 0 0 0 0  0 0 0 0 0.05  0 0 0 0 0.2  -8 0 0 0 3.7"/>
</filter>
<linearGradient id="rfade" gradientUnits="userSpaceOnUse" x1="1080" y1="0" x2="1200" y2="0"><stop offset="0" stop-color="#fff" stop-opacity="0"/><stop offset="1" stop-color="#fff" stop-opacity="1"/></linearGradient>
<mask id="rmask" maskUnits="userSpaceOnUse" x="1060" y="160" width="400" height="360"><rect x="1060" y="160" width="400" height="360" fill="url(#rfade)"/></mask><linearGradient id="vfade" gradientUnits="userSpaceOnUse" x1="0" y1="200" x2="0" y2="250"><stop offset="0" stop-color="#fff" stop-opacity="0"/><stop offset="1" stop-color="#fff" stop-opacity="1"/></linearGradient><mask id="vmask" maskUnits="userSpaceOnUse" x="1060" y="160" width="400" height="360"><rect x="1060" y="160" width="400" height="360" fill="url(#vfade)"/></mask>
<filter id="dstrk2" filterUnits="userSpaceOnUse" x="530" y="290" width="200" height="180" color-interpolation-filters="sRGB">
<feTurbulence type="fractalNoise" baseFrequency="0.03 0.4" numOctaves="2" seed="13"/>
<feColorMatrix type="matrix" values="0 0 0 0 0  0 0 0 0 0.05  0 0 0 0 0.2  -8 0 0 0 3.6"/>
</filter>
<linearGradient id="lfade" gradientUnits="userSpaceOnUse" x1="640" y1="0" x2="720" y2="0"><stop offset="0" stop-color="#fff" stop-opacity="1"/><stop offset="1" stop-color="#fff" stop-opacity="0"/></linearGradient>
<mask id="lmask" maskUnits="userSpaceOnUse" x="530" y="290" width="200" height="180"><rect x="530" y="290" width="200" height="180" fill="url(#lfade)"/></mask><linearGradient id="lvf" gradientUnits="userSpaceOnUse" x1="0" y1="312" x2="0" y2="345"><stop offset="0" stop-color="#fff" stop-opacity="0"/><stop offset="1" stop-color="#fff" stop-opacity="1"/></linearGradient><mask id="lvmask" maskUnits="userSpaceOnUse" x="530" y="290" width="200" height="180"><rect x="530" y="290" width="200" height="180" fill="url(#lvf)"/></mask>
<linearGradient id="hookg" gradientUnits="userSpaceOnUse" x1="538" y1="0" x2="660" y2="0"><stop offset="0" stop-color="#fff" stop-opacity="0.25"/><stop offset="0.55" stop-color="#fff" stop-opacity="0.85"/><stop offset="1" stop-color="#fff" stop-opacity="1"/></linearGradient>
</defs><defs><g id="aur"><g clip-path="url(#aclip)"><g id="grid" filter="url(#gb)">
<rect x="144.0" y="42.50" width="1712.0" height="38.95" fill="url(#g0)"/>
<rect x="144.0" y="80.84" width="1712.0" height="13.94" fill="url(#g1)"/>
<rect x="144.0" y="94.19" width="1712.0" height="13.94" fill="url(#g2)"/>
<rect x="144.0" y="107.53" width="1712.0" height="13.94" fill="url(#g3)"/>
<rect x="144.0" y="120.88" width="1712.0" height="13.94" fill="url(#g4)"/>
<rect x="144.0" y="134.22" width="1712.0" height="13.94" fill="url(#g5)"/>
<rect x="144.0" y="147.57" width="1712.0" height="13.94" fill="url(#g6)"/>
<rect x="144.0" y="160.91" width="1712.0" height="13.94" fill="url(#g7)"/>
<rect x="144.0" y="174.26" width="1712.0" height="13.94" fill="url(#g8)"/>
<rect x="144.0" y="187.60" width="1712.0" height="13.94" fill="url(#g9)"/>
<rect x="144.0" y="200.95" width="1712.0" height="13.94" fill="url(#g10)"/>
<rect x="144.0" y="214.29" width="1712.0" height="13.94" fill="url(#g11)"/>
<rect x="144.0" y="227.64" width="1712.0" height="13.94" fill="url(#g12)"/>
<rect x="144.0" y="240.98" width="1712.0" height="13.94" fill="url(#g13)"/>
<rect x="144.0" y="254.33" width="1712.0" height="13.94" fill="url(#g14)"/>
<rect x="144.0" y="267.67" width="1712.0" height="13.94" fill="url(#g15)"/>
<rect x="144.0" y="281.02" width="1712.0" height="13.94" fill="url(#g16)"/>
<rect x="144.0" y="294.37" width="1712.0" height="13.94" fill="url(#g17)"/>
<rect x="144.0" y="307.71" width="1712.0" height="13.94" fill="url(#g18)"/>
<rect x="144.0" y="321.05" width="1712.0" height="13.94" fill="url(#g19)"/>
<rect x="144.0" y="334.40" width="1712.0" height="13.94" fill="url(#g20)"/>
<rect x="144.0" y="347.75" width="1712.0" height="13.94" fill="url(#g21)"/>
<rect x="144.0" y="361.09" width="1712.0" height="13.94" fill="url(#g22)"/>
<rect x="144.0" y="374.43" width="1712.0" height="13.94" fill="url(#g23)"/>
<rect x="144.0" y="387.78" width="1712.0" height="13.94" fill="url(#g24)"/>
<rect x="144.0" y="401.12" width="1712.0" height="13.94" fill="url(#g25)"/>
<rect x="144.0" y="414.47" width="1712.0" height="13.94" fill="url(#g26)"/>
<rect x="144.0" y="427.81" width="1712.0" height="13.94" fill="url(#g27)"/>
<rect x="144.0" y="441.16" width="1712.0" height="13.94" fill="url(#g28)"/>
<rect x="144.0" y="454.50" width="1712.0" height="13.94" fill="url(#g29)"/>
<rect x="144.0" y="467.85" width="1712.0" height="13.94" fill="url(#g30)"/>
<rect x="144.0" y="481.19" width="1712.0" height="13.94" fill="url(#g31)"/>
<rect x="144.0" y="494.54" width="1712.0" height="13.94" fill="url(#g32)"/>
<rect x="144.0" y="507.88" width="1712.0" height="13.94" fill="url(#g33)"/>
<rect x="144.0" y="521.23" width="1712.0" height="13.94" fill="url(#g34)"/>
<rect x="144.0" y="534.57" width="1712.0" height="13.94" fill="url(#g35)"/>
<rect x="144.0" y="547.92" width="1712.0" height="13.94" fill="url(#g36)"/>
<rect x="144.0" y="561.26" width="1712.0" height="13.94" fill="url(#g37)"/>
<rect x="144.0" y="574.61" width="1712.0" height="13.94" fill="url(#g38)"/>
<rect x="144.0" y="587.95" width="1712.0" height="38.95" fill="url(#g39)"/>
</g>
<rect x="164" y="67" width="1672" height="535" filter="url(#spk)" mask="url(#dmask)"/>
<rect x="164" y="67" width="1672" height="535" filter="url(#strk)" mask="url(#bmask)" opacity="0.5"/>
<g mask="url(#mmask)"><g mask="url(#ovm)" opacity="0.55"><rect x="400" y="-300" width="1000" height="1200" transform="rotate(62 870 290)" filter="url(#otex)"/></g></g>
<path d="M728,282 C745,305 770,332 805,357 C835,378 865,397 900,414 C915,421 930,426 945,428" stroke="#06309a" stroke-width="26" fill="none" filter="url(#ab2)" opacity="0.55"/>
<g mask="url(#mmask)"><g mask="url(#vmask)"><rect x="1060" y="160" width="400" height="360" filter="url(#dstrk)" mask="url(#rmask)" opacity="0.55"/></g></g>
<g mask="url(#lvmask)"><rect x="530" y="300" width="200" height="165" filter="url(#dstrk2)" mask="url(#lmask)" opacity="0.6"/></g>
<ellipse cx="905" cy="232" rx="20" ry="34" fill="#f0f8ff" opacity="0.45" filter="url(#ab2)"/>
<ellipse cx="982" cy="350" rx="12" ry="26" fill="#f0f8ff" opacity="0.9" filter="url(#ab2)"/>
<ellipse cx="955" cy="392" rx="26" ry="9" fill="#f0f8ff" opacity="0.75" filter="url(#ab2)"/>
<ellipse cx="945" cy="335" rx="9" ry="30" fill="#f0f8ff" opacity="0.5" filter="url(#ab2)"/>
<ellipse cx="1025" cy="360" rx="16" ry="30" fill="#f0f8ff" opacity="0.8" filter="url(#ab2)"/>
<ellipse cx="1030" cy="300" rx="8" ry="40" fill="#f0f8ff" opacity="0.5" filter="url(#ab2)"/>
<path d="M795,316 C825,333 858,352 905,372" stroke="#86c6ff" stroke-width="12" fill="none" filter="url(#ab2)" opacity="0.5"/>
<path d="M918,392 C935,386 952,382 975,378 C985,376 993,374 999,372" stroke="#ffffff" stroke-width="10" fill="none" filter="url(#ab2)" opacity="0.85"/>
<ellipse cx="984" cy="358" rx="14" ry="30" fill="#ffffff" filter="url(#ab2)" opacity="0.95"/>
<path d="M950,300 C958,328 962,350 968,378" stroke="#e8f4ff" stroke-width="9" fill="none" filter="url(#ab2)" opacity="0.6"/>
<path d="M1058,312 C1046,346 1030,385 1006,434" stroke="#ffffff" stroke-width="16" fill="none" filter="url(#ab2)" opacity="0.75"/>
<ellipse cx="1022" cy="352" rx="12" ry="22" fill="#ffffff" filter="url(#ab2)" opacity="0.7"/>
<path d="M535,250 C580,249 630,248 660,258 C685,268 705,292 730,318 C745,333 760,345 780,358" stroke="#c4e4ff" stroke-width="46" fill="none" stroke-linecap="round" filter="url(#ab3)" opacity="0.9"/>
<path d="M538,250 C543.3,250.0 559.7,250.0 570,250 C580.3,250.0 589.5,249.8 600,250 C610.5,250.2 623.0,249.7 633,251 C643.0,252.3 651.8,254.7 660,258 C668.2,261.3 675.8,266.5 682,271 C688.2,275.5 691.3,279.5 697,285 C702.7,290.5 709.7,297.7 716,304 C722.3,310.3 728.7,317.0 735,323 C741.3,329.0 747.7,334.7 754,340 C760.3,345.3 766.6,350.2 773,355 C779.4,359.8 786.1,364.1 792.5,368.6 C798.9,373.1 805.2,377.5 811.6,382 C818.0,386.5 824.6,391.0 831,395.5 C837.4,400.0 843.7,404.9 850,409 C856.3,413.1 862.7,416.9 869,420.4 C875.3,423.9 881.6,427.1 888,430 C894.4,432.9 901.1,435.4 907.5,437.6 C913.9,439.8 920.2,441.9 926.6,443.4 C933.0,444.8 939.6,445.7 946,446.3 C952.4,446.9 958.7,447.2 965,447.2 C971.3,447.2 978.8,446.9 984,446.3 C989.2,445.7 993.0,444.3 996,443.4 C999.0,442.5 1001.0,441.4 1002,441" stroke="#9ad0ff" stroke-width="22" fill="none" filter="url(#ab2)" opacity="0.75"/>
<path d="M538.0,254.0 C543.3,254.8 559.7,257.7 570.0,259.0 C580.3,260.3 589.6,261.2 599.8,262.0 C610.0,262.8 622.1,262.6 631.3,263.9 C640.5,265.2 647.8,267.2 655.1,270.0 C662.4,272.8 669.2,276.9 674.9,280.7 C680.6,284.5 683.6,287.9 689.3,292.9 C695.0,297.9 702.6,304.7 709.3,310.7 C716.0,316.7 722.8,323.1 729.5,328.8 C736.2,334.5 743.1,339.9 749.8,345.0 C756.5,350.1 763.1,354.8 769.7,359.4 C776.3,364.0 783.1,368.3 789.6,372.7 C796.1,377.1 802.5,381.3 809.0,385.7 C815.5,390.1 822.2,394.4 828.7,398.8 C835.2,403.2 841.5,408.0 847.9,412.1 C854.3,416.2 860.8,420.0 867.3,423.5 C873.8,427.0 880.1,430.3 886.6,433.2 C893.1,436.1 899.9,438.5 906.4,440.7 C912.9,442.9 919.3,445.2 925.9,446.6 C932.5,448.0 939.2,448.7 945.7,449.3 C952.2,449.9 958.5,450.2 965.0,450.2 C971.5,450.2 979.1,449.9 984.4,449.3 C989.7,448.7 993.7,447.2 996.8,446.3 C999.9,445.4 1002.0,444.2 1003.1,443.8 L1000.9,438.2 C1000.0,438.6 998.1,439.6 995.2,440.5 C992.3,441.4 988.6,442.7 983.6,443.3 C978.6,443.9 971.2,444.2 965.0,444.2 C958.8,444.2 952.6,444.0 946.3,443.3 C940.0,442.6 933.6,441.7 927.3,440.2 C921.0,438.7 914.9,436.7 908.6,434.5 C902.3,432.3 895.7,429.7 889.4,426.8 C883.1,423.9 876.9,420.8 870.7,417.3 C864.5,413.8 858.3,410.1 852.1,405.9 C845.9,401.7 839.6,396.8 833.3,392.2 C827.0,387.6 820.5,382.9 814.2,378.3 C807.9,373.7 801.7,369.1 795.4,364.5 C789.1,359.9 782.5,355.5 776.3,350.6 C770.1,345.7 764.2,340.6 758.2,335.0 C752.2,329.4 746.4,323.5 740.5,317.2 C734.6,310.9 728.7,304.0 722.7,297.3 C716.7,290.6 710.3,283.1 704.7,277.1 C699.1,271.1 695.7,266.5 689.1,261.3 C682.5,256.1 674.0,249.9 664.9,246.0 C655.8,242.1 645.5,239.4 634.7,238.1 C623.9,236.8 611.0,237.5 600.2,238.0 C589.4,238.5 580.4,239.7 570.0,241.0 C559.6,242.3 543.3,245.2 538.0,246.0 Z" fill="url(#hookg)" filter="url(#ab)"/>
<path d="M1003,513 C1030,502 1060,484 1078,464 C1095,444 1113,421 1130,403 C1148,385 1166,370 1200,347 C1215,337 1232,327 1250,318" stroke="#2a8cff" stroke-width="16" fill="none" filter="url(#ab2)" opacity="0.55"/>
<path d="M1003,513 C1030,502 1060,484 1078,464 C1095,444 1113,421 1130,403 C1148,385 1166,370 1200,347 C1215,337 1232,327 1250,318" stroke="#8ccaff" stroke-width="4" fill="none" filter="url(#ab)" opacity="1"/>
<path d="M1003,516 C1030,505 1060,485 1085,460 C1100,443 1112,425 1125,408" stroke="#ffffff" stroke-width="3.5" fill="none" filter="url(#ab)" opacity="0.75"/>
<path d="M1245,318 C1265,308 1285,300 1310,292" stroke="#5aaaff" stroke-width="3" fill="none" filter="url(#ab)" opacity="0.5"/>
<polyline points="438.5,140 461.9,150 476.2,160 485.4,170 493.2,180 499.9,190 506.3,200 511.3,210 516.2,220 521.1,230 524.8,240 527.9,250 531.0,260 534.1,270 536.2,280 537.9,290 539.5,300 540.9,310 542.3,320 543.6,330 544.9,340 548.1,350 550.4,360 551.3,370 552.2,380 553.2,390 554.1,400 555.0,410 556.0,420 556.0,430 556.0,440" stroke="#2a88ee" stroke-width="24" fill="none" filter="url(#ab2)" opacity="0.7"/>
<polyline points="1531.3,130 1515.7,140 1499.6,150 1485.8,160 1475.8,170 1466.9,180 1461.2,190 1456.0,200 1451.0,210 1446.0,220 1441.0,230 1436.4,240 1433.2,250 1430.4,260 1428.4,270 1426.6,280 1425.2,290 1423.8,300 1422.6,310 1421.5,320 1420.5,330 1419.5,340 1418.6,350 1417.7,360 1416.9,370 1416.0,380 1414.6,390 1413.1,400 1411.7,410 1410.3,420 1409.6,430 1409.1,440 1408.5,450 1408.0,460 1407.9,470 1407.8,480" stroke="#1a70e0" stroke-width="20" fill="none" filter="url(#ab2)" opacity="0.35"/>
<path d="M423.0 138.0l11.2 -1.7M429.6 140.9l15.5 -2.4M435.8 143.6l14.0 -2.2M443.7 147.0l7.8 -1.0M452.3 150.6l7.5 -1.0M459.1 154.1l7.9 -1.1M462.0 156.8l12.5 -1.9M466.4 161.1l8.6 -1.2M469.5 164.1l15.2 -2.4M473.4 168.6l14.5 -2.3M476.0 172.0l19.7 -3.2M478.1 174.7l18.2 -2.9M480.6 177.9l8.9 -1.2M482.8 180.7l11.0 -1.6M485.6 185.0l9.3 -1.3M488.1 188.7l15.3 -2.4M490.3 192.1l14.1 -2.2M492.1 194.8l7.8 -1.0M494.1 197.8l15.8 -2.5M495.9 201.3l11.1 -1.6M497.8 205.0l12.9 -2.0M499.4 208.2l17.3 -2.8M501.4 212.2l10.2 -1.5M503.3 216.0l13.8 -2.1M505.4 220.3l16.5 -2.6M506.9 223.5l19.7 -3.2M508.3 226.4l12.4 -1.9M510.3 230.5l9.0 -1.3M512.0 234.0l7.5 -1.0M513.2 238.0l16.9 -2.7M514.4 241.7l18.4 -2.9M515.4 245.0l16.0 -2.5M516.5 248.7l14.5 -2.3M517.6 252.3l17.9 -2.9M519.0 256.7l13.2 -2.0M520.2 260.7l7.8 -1.0M521.4 264.7l15.4 -2.4M522.8 269.3l17.7 -2.8M523.8 272.4l12.0 -1.8M524.6 276.4l7.3 -1.0M525.2 279.9l9.2 -1.3M525.7 282.7l7.8 -1.0M526.4 286.9l8.7 -1.2M526.9 290.0l12.1 -1.8M527.6 294.3l8.0 -1.1M528.2 297.8l14.1 -2.2M528.8 302.2l17.7 -2.8M529.4 306.5l10.6 -1.6M529.9 309.9l11.7 -1.7M530.5 314.3l19.5 -3.1M530.9 317.2l9.3 -1.3M531.3 320.3l10.0 -1.4M531.8 323.8l14.7 -2.3M532.2 327.0l7.1 -0.9M532.6 330.4l26.2 -0.7M533.0 334.1l45.5 -1.3M533.5 338.1l31.0 -0.9M534.5 341.9l36.3 -1.0M535.4 344.6l43.7 -1.3M536.7 348.8l42.9 -1.2M538.0 353.0l26.9 -0.7M539.0 356.4l17.4 -0.5M539.4 360.3l16.1 -0.4M539.7 363.0l20.9 -0.6M539.9 365.9l25.2 -0.7M540.2 368.6l14.0 -0.4M540.4 371.5l17.3 -0.5M540.8 374.9l14.8 -0.4M541.2 379.2l34.3 -1.0M541.4 382.1l22.3 -0.6M541.7 385.4l26.0 -0.7M542.0 388.3l42.0 -1.2M542.4 392.8l29.4 -0.8M542.8 396.4l16.8 -0.4M543.0 399.2l25.3 -0.7M543.3 402.3l41.4 -1.2M543.6 405.3l14.8 -0.4M544.0 409.8l31.4 -0.9M544.3 412.7l31.9 -0.9M544.6 415.3l31.4 -0.9M545.0 419.9l42.5 -1.2M545.0 423.9l22.6 -0.6M545.0 427.2l19.5 -0.5M545.0 431.3l31.6 -0.9M545.0 435.5l24.9 -0.7M545.0 438.5l40.8 -1.2M545.0 443.1l42.1 -1.2M545.0 447.3l41.0 -1.2" stroke="#000820" stroke-width="1.5" stroke-linecap="round" opacity="0.6" fill="none"/>
<path d="M1548.5 128.0l-10.9 -1.3M1537.1 131.6l-13.0 -1.7M1533.3 134.3l-7.5 -0.8M1529.6 137.5l-11.4 -1.4M1525.0 141.4l-23.3 -3.2M1520.2 144.9l-22.9 -3.1M1511.5 149.5l-23.2 -3.2M1505.2 152.8l-10.7 -1.3M1501.0 155.9l-10.3 -1.3M1497.9 158.9l-17.6 -2.3M1493.4 163.3l-21.3 -2.9M1489.7 166.9l-18.1 -2.4M1485.8 171.1l-8.4 -1.0M1482.4 175.0l-22.5 -3.1M1478.6 179.1l-19.8 -2.7M1476.1 182.7l-10.0 -1.2M1473.9 186.9l-12.7 -1.6M1471.7 191.1l-23.5 -3.2M1469.9 194.5l-13.8 -1.8M1467.5 199.0l-19.3 -2.6M1466.0 201.9l-9.2 -1.1M1464.6 204.8l-22.4 -3.1M1462.5 209.0l-9.5 -1.1M1460.4 213.3l-23.7 -3.2M1458.4 217.2l-13.0 -1.6M1456.6 220.9l-9.2 -1.1M1455.2 223.5l-23.5 -3.2M1453.3 227.4l-16.0 -2.1M1451.1 231.9l-14.4 -1.9M1448.9 236.2l-21.0 -2.9M1447.6 239.2l-11.3 -1.4M1446.6 242.4l-11.1 -1.4M1445.4 246.2l-11.4 -1.4M1444.3 249.6l-9.2 -1.1M1442.9 254.1l-13.0 -1.7M1441.9 257.6l-16.9 -2.2M1441.0 262.0l-14.2 -1.8M1440.1 266.4l-15.5 -2.0M1439.4 270.1l-15.9 -2.1M1438.9 272.7l-14.5 -1.9M1438.3 275.7l-7.1 -0.8M1437.6 279.9l-9.9 -1.2M1437.1 283.4l-19.3 -2.6M1436.6 287.1l-12.5 -1.6M1436.1 290.8l-16.4 -2.2M1435.5 295.0l-8.8 -1.0M1435.0 298.7l-11.2 -1.4M1434.6 301.8l-20.1 -0.5M1434.1 305.4l-16.5 -0.4M1433.6 309.6l-22.5 -0.6M1433.3 313.1l-17.4 -0.5M1432.9 316.7l-15.7 -0.4M1432.5 320.6l-14.7 -0.4M1432.1 324.3l-15.1 -0.4M1431.6 328.8l-18.9 -0.5M1431.2 333.1l-23.0 -0.6M1430.8 336.3l-16.5 -0.4M1430.4 340.8l-21.3 -0.6M1430.1 343.6l-9.1 -0.2M1429.8 347.1l-8.2 -0.2M1429.6 350.2l-8.2 -0.2M1429.2 354.1l-20.3 -0.5M1428.9 358.5l-9.6 -0.2M1428.5 362.6l-18.2 -0.5M1428.3 365.4l-22.0 -0.6M1427.9 370.0l-10.7 -0.3M1427.5 374.5l-13.8 -0.4M1427.2 378.1l-23.8 -0.7M1426.7 382.3l-9.7 -0.2M1426.2 385.8l-15.8 -0.4M1425.7 389.1l-10.3 -0.2M1425.2 392.3l-19.3 -0.5M1424.9 394.9l-16.4 -0.4M1424.4 398.4l-7.3 -0.2M1423.9 401.7l-17.6 -0.5M1423.4 405.3l-8.1 -0.2M1422.7 409.9l-20.4 -0.6M1422.1 414.4l-8.8 -0.2M1421.6 417.6l-7.7 -0.2M1421.0 421.7l-11.6 -0.3M1420.9 424.6l-14.2 -0.4M1420.6 429.0l-20.9 -0.6M1420.5 432.1l-9.5 -0.2M1420.2 436.6l-16.7 -0.4M1420.0 440.6l-8.5 -0.2M1419.9 443.3l-18.7 -0.5M1419.7 446.7l-8.2 -0.2M1419.5 451.2l-17.8 -0.5M1419.2 455.4l-8.4 -0.2M1419.0 459.7l-8.1 -0.2M1418.9 464.0l-14.7 -0.4M1418.9 467.3l-16.4 -0.4M1418.9 471.8l-11.6 -0.3M1418.8 474.6l-16.0 -0.4M1418.8 477.7l-8.9 -0.2M1418.7 480.6l-7.9 -0.2M1418.7 483.6l-12.3 -0.3M1418.7 486.8l-19.9 -0.5" stroke="#000820" stroke-width="1.6" stroke-linecap="round" opacity="0.4" fill="none"/>
</g>
<polygon points="164,67 1836,67 1836,69 1500,70.5 1280,73.5 1000,74 720,73.5 550,71 164,69.5" fill="#000"/>
<polygon points="189,67.5 262,67.5 164,84 164,80.5" fill="#000"/>
<polygon points="350,112.3 390,106 422,101.2 367,116.2" fill="#000"/>
<path d="M397,125.5 L440,123 L500,120.8 L440,124.6 Z M421,135 L470,131 L520,128.5 L470,132.6 Z M438,140 L490,137 L540,134.5 L490,138.6 Z" fill="#000" opacity="0.8"/>
</g>
<linearGradient id="cb" x1="0" y1="0" x2="0" y2="1">
<stop offset="0" stop-color="#eef7ff"/>
<stop offset="0.1" stop-color="#b0dcff"/>
<stop offset="0.2" stop-color="#40acff"/>
<stop offset="0.27" stop-color="#0c8cf4"/>
<stop offset="0.335" stop-color="#0872e2"/>
<stop offset="0.43" stop-color="#0052c4"/>
<stop offset="0.52" stop-color="#0032a4"/>
<stop offset="0.6" stop-color="#00168a"/>
<stop offset="0.665" stop-color="#000a70"/>
<stop offset="0.77" stop-color="#000444"/>
<stop offset="0.9" stop-color="#00001c"/>
<stop offset="1" stop-color="#000008"/>
</linearGradient>
</defs>
<rect width="1983" height="1423" fill="#fff"/>
<rect x="164.0" y="67.5" width="1672.0" height="533.8" fill="#000"/>
<use href="#aur"/>
<path d="M164.00 67.50V601.30M233.67 67.50V601.30M303.33 67.50V601.30M373.00 67.50V601.30M442.67 67.50V601.30M512.33 67.50V601.30M582.00 67.50V601.30M651.67 67.50V601.30M721.33 67.50V601.30M791.00 67.50V601.30M860.67 67.50V601.30M930.33 67.50V601.30M1000.00 67.50V601.30M1069.67 67.50V601.30M1139.33 67.50V601.30M1209.00 67.50V601.30M1278.67 67.50V601.30M1348.33 67.50V601.30M1418.00 67.50V601.30M1487.67 67.50V601.30M1557.33 67.50V601.30M1627.00 67.50V601.30M1696.67 67.50V601.30M1766.33 67.50V601.30M1836.00 67.50V601.30" stroke="#fff" stroke-width="3" stroke-dasharray="3 8.017" stroke-dashoffset="-1.6" fill="none"/>
<path d="M164.00 120.88H1836.00M164.00 174.26H1836.00M164.00 227.64H1836.00M164.00 281.02H1836.00M164.00 334.40H1836.00M164.00 387.78H1836.00M164.00 441.16H1836.00M164.00 494.54H1836.00M164.00 547.92H1836.00" stroke="#fff" stroke-width="2.6" stroke-dasharray="3 8.03" fill="none"/>
<rect x="998" y="67.5" width="4.2" height="533.8" fill="#d8400e"/>
<path d="M138.5 67.5H1836.0M138.5 601.3H1836.0M164.0 67.5V601.3M1836.0 67.5V601.3" stroke="#000" stroke-width="1.15" fill="none"/>
<path d="M138.50 67.50H164.0M151.00 78.18H164.0M151.00 88.85H164.0M151.00 99.53H164.0M151.00 110.20H164.0M151.00 120.88H164.0M151.00 131.56H164.0M151.00 142.23H164.0M151.00 152.91H164.0M151.00 163.58H164.0M138.50 174.26H164.0M151.00 184.94H164.0M151.00 195.61H164.0M151.00 206.29H164.0M151.00 216.96H164.0M151.00 227.64H164.0M151.00 238.32H164.0M151.00 248.99H164.0M151.00 259.67H164.0M151.00 270.34H164.0M138.50 281.02H164.0M151.00 291.70H164.0M151.00 302.37H164.0M151.00 313.05H164.0M151.00 323.72H164.0M151.00 334.40H164.0M151.00 345.08H164.0M151.00 355.75H164.0M151.00 366.43H164.0M151.00 377.10H164.0M138.50 387.78H164.0M151.00 398.46H164.0M151.00 409.13H164.0M151.00 419.81H164.0M151.00 430.48H164.0M151.00 441.16H164.0M151.00 451.84H164.0M151.00 462.51H164.0M151.00 473.19H164.0M151.00 483.86H164.0M138.50 494.54H164.0M151.00 505.22H164.0M151.00 515.89H164.0M151.00 526.57H164.0M151.00 537.24H164.0M151.00 547.92H164.0M151.00 558.60H164.0M151.00 569.27H164.0M151.00 579.95H164.0M151.00 590.62H164.0M138.50 601.30H164.0" stroke="#222" stroke-width="1.3" fill="none"/>
<path d="M164.00 601.30V609.30M233.67 601.30V605.30M303.33 601.30V605.30M373.00 601.30V609.30M442.67 601.30V605.30M512.33 601.30V605.30M582.00 601.30V609.30M651.67 601.30V605.30M721.33 601.30V605.30M791.00 601.30V609.30M860.67 601.30V605.30M930.33 601.30V605.30M1000.00 601.30V609.30M1069.67 601.30V605.30M1139.33 601.30V605.30M1209.00 601.30V609.30M1278.67 601.30V605.30M1348.33 601.30V605.30M1418.00 601.30V609.30M1487.67 601.30V605.30M1557.33 601.30V605.30M1627.00 601.30V609.30M1696.67 601.30V605.30M1766.33 601.30V605.30M1836.00 601.30V609.30" stroke="#222" stroke-width="1.3" fill="none"/>
<text transform="translate(88.34,89.40) scale(1,1.03)" font-size="37.0">9</text><text transform="translate(108.92,89.40) scale(1,1.03)" font-size="37.0">0</text>
<text transform="translate(88.34,186.96) scale(1,1.03)" font-size="37.0">8</text><text transform="translate(108.92,186.96) scale(1,1.03)" font-size="37.0">0</text>
<text transform="translate(88.34,293.72) scale(1,1.03)" font-size="37.0">7</text><text transform="translate(108.92,293.72) scale(1,1.03)" font-size="37.0">0</text>
<text transform="translate(88.34,400.48) scale(1,1.03)" font-size="37.0">6</text><text transform="translate(108.92,400.48) scale(1,1.03)" font-size="37.0">0</text>
<text transform="translate(88.34,507.24) scale(1,1.03)" font-size="37.0">5</text><text transform="translate(108.92,507.24) scale(1,1.03)" font-size="37.0">0</text>
<text transform="translate(88.34,601.20) scale(1,1.03)" font-size="37.0">4</text><text transform="translate(108.92,601.20) scale(1,1.03)" font-size="37.0">0</text>
<text transform="translate(153.71,655.90) scale(1,1.03)" font-size="37.0">0</text>
<text transform="translate(362.71,655.90) scale(1,1.03)" font-size="37.0">3</text>
<text transform="translate(571.71,655.90) scale(1,1.03)" font-size="37.0">6</text>
<text transform="translate(780.71,655.90) scale(1,1.03)" font-size="37.0">9</text>
<path transform="translate(979.42,655.90) scale(0.03700,-0.03811)" d="M262 0H354V697H292C280 630 240 585 111 573V492H262Z"/><text transform="translate(1000.00,655.90) scale(1,1.03)" font-size="37.0">2</text>
<path transform="translate(1188.42,655.90) scale(0.03700,-0.03811)" d="M262 0H354V697H292C280 630 240 585 111 573V492H262Z"/><text transform="translate(1209.00,655.90) scale(1,1.03)" font-size="37.0">5</text>
<path transform="translate(1397.42,655.90) scale(0.03700,-0.03811)" d="M262 0H354V697H292C280 630 240 585 111 573V492H262Z"/><text transform="translate(1418.00,655.90) scale(1,1.03)" font-size="37.0">8</text>
<text transform="translate(1606.42,655.90) scale(1,1.03)" font-size="37.0">2</text><path transform="translate(1627.00,655.90) scale(0.03700,-0.03811)" d="M262 0H354V697H292C280 630 240 585 111 573V492H262Z"/>
<text transform="translate(1815.42,655.90) scale(1,1.03)" font-size="37.0">2</text><text transform="translate(1836.00,655.90) scale(1,1.03)" font-size="37.0">4</text>
<text transform="translate(1000.50,695.00) scale(1,1.03)" font-size="37.0" text-anchor="middle" >Local Time (hours)</text>
<text transform="translate(1000.5,51.00) scale(1,1.076)" font-size="42.0" text-anchor="middle">Northern hemisphere</text>
<text transform="translate(60.4,334.40) rotate(-90) scale(1,1.03)" font-size="36.3" text-anchor="middle">Latitude (<tspan font-size="26" dy="-5.5">°</tspan><tspan dy="5.5">)</tspan></text>
<rect x="164.0" y="767.3" width="1672.0" height="534.2" fill="#000"/>
<path d="M164.00 767.30V1301.50M233.67 767.30V1301.50M303.33 767.30V1301.50M373.00 767.30V1301.50M442.67 767.30V1301.50M512.33 767.30V1301.50M582.00 767.30V1301.50M651.67 767.30V1301.50M721.33 767.30V1301.50M791.00 767.30V1301.50M860.67 767.30V1301.50M930.33 767.30V1301.50M1000.00 767.30V1301.50M1069.67 767.30V1301.50M1139.33 767.30V1301.50M1209.00 767.30V1301.50M1278.67 767.30V1301.50M1348.33 767.30V1301.50M1418.00 767.30V1301.50M1487.67 767.30V1301.50M1557.33 767.30V1301.50M1627.00 767.30V1301.50M1696.67 767.30V1301.50M1766.33 767.30V1301.50M1836.00 767.30V1301.50" stroke="#fff" stroke-width="3" stroke-dasharray="3 8.017" stroke-dashoffset="-1.6" fill="none"/>
<path d="M164.00 820.72H1836.00M164.00 874.14H1836.00M164.00 927.56H1836.00M164.00 980.98H1836.00M164.00 1034.40H1836.00M164.00 1087.82H1836.00M164.00 1141.24H1836.00M164.00 1194.66H1836.00M164.00 1248.08H1836.00" stroke="#fff" stroke-width="2.6" stroke-dasharray="3 8.03" fill="none"/>
<rect x="998" y="767.3" width="4.2" height="534.2" fill="#d8400e"/>
<path d="M138.5 767.3H1836.0M138.5 1301.5H1836.0M164.0 767.3V1301.5M1836.0 767.3V1301.5" stroke="#000" stroke-width="1.15" fill="none"/>
<path d="M138.50 767.30H164.0M151.00 777.98H164.0M151.00 788.67H164.0M151.00 799.35H164.0M151.00 810.04H164.0M151.00 820.72H164.0M151.00 831.40H164.0M151.00 842.09H164.0M151.00 852.77H164.0M151.00 863.46H164.0M138.50 874.14H164.0M151.00 884.82H164.0M151.00 895.51H164.0M151.00 906.19H164.0M151.00 916.88H164.0M151.00 927.56H164.0M151.00 938.24H164.0M151.00 948.93H164.0M151.00 959.61H164.0M151.00 970.30H164.0M138.50 980.98H164.0M151.00 991.66H164.0M151.00 1002.35H164.0M151.00 1013.03H164.0M151.00 1023.72H164.0M151.00 1034.40H164.0M151.00 1045.08H164.0M151.00 1055.77H164.0M151.00 1066.45H164.0M151.00 1077.14H164.0M138.50 1087.82H164.0M151.00 1098.50H164.0M151.00 1109.19H164.0M151.00 1119.87H164.0M151.00 1130.56H164.0M151.00 1141.24H164.0M151.00 1151.92H164.0M151.00 1162.61H164.0M151.00 1173.29H164.0M151.00 1183.98H164.0M138.50 1194.66H164.0M151.00 1205.34H164.0M151.00 1216.03H164.0M151.00 1226.71H164.0M151.00 1237.40H164.0M151.00 1248.08H164.0M151.00 1258.76H164.0M151.00 1269.45H164.0M151.00 1280.13H164.0M151.00 1290.82H164.0M138.50 1301.50H164.0" stroke="#222" stroke-width="1.3" fill="none"/>
<path d="M164.00 1301.50V1309.50M233.67 1301.50V1305.50M303.33 1301.50V1305.50M373.00 1301.50V1309.50M442.67 1301.50V1305.50M512.33 1301.50V1305.50M582.00 1301.50V1309.50M651.67 1301.50V1305.50M721.33 1301.50V1305.50M791.00 1301.50V1309.50M860.67 1301.50V1305.50M930.33 1301.50V1305.50M1000.00 1301.50V1309.50M1069.67 1301.50V1305.50M1139.33 1301.50V1305.50M1209.00 1301.50V1309.50M1278.67 1301.50V1305.50M1348.33 1301.50V1305.50M1418.00 1301.50V1309.50M1487.67 1301.50V1305.50M1557.33 1301.50V1305.50M1627.00 1301.50V1309.50M1696.67 1301.50V1305.50M1766.33 1301.50V1305.50M1836.00 1301.50V1309.50" stroke="#222" stroke-width="1.3" fill="none"/>
<text transform="translate(76.02,789.20) scale(1,1.03)" font-size="37.0">-</text><text transform="translate(88.34,789.20) scale(1,1.03)" font-size="37.0">4</text><text transform="translate(108.92,789.20) scale(1,1.03)" font-size="37.0">0</text>
<text transform="translate(76.02,886.84) scale(1,1.03)" font-size="37.0">-</text><text transform="translate(88.34,886.84) scale(1,1.03)" font-size="37.0">5</text><text transform="translate(108.92,886.84) scale(1,1.03)" font-size="37.0">0</text>
<text transform="translate(76.02,993.68) scale(1,1.03)" font-size="37.0">-</text><text transform="translate(88.34,993.68) scale(1,1.03)" font-size="37.0">6</text><text transform="translate(108.92,993.68) scale(1,1.03)" font-size="37.0">0</text>
<text transform="translate(76.02,1100.52) scale(1,1.03)" font-size="37.0">-</text><text transform="translate(88.34,1100.52) scale(1,1.03)" font-size="37.0">7</text><text transform="translate(108.92,1100.52) scale(1,1.03)" font-size="37.0">0</text>
<text transform="translate(76.02,1207.36) scale(1,1.03)" font-size="37.0">-</text><text transform="translate(88.34,1207.36) scale(1,1.03)" font-size="37.0">8</text><text transform="translate(108.92,1207.36) scale(1,1.03)" font-size="37.0">0</text>
<text transform="translate(76.02,1301.40) scale(1,1.03)" font-size="37.0">-</text><text transform="translate(88.34,1301.40) scale(1,1.03)" font-size="37.0">9</text><text transform="translate(108.92,1301.40) scale(1,1.03)" font-size="37.0">0</text>
<text transform="translate(153.71,1356.10) scale(1,1.03)" font-size="37.0">0</text>
<text transform="translate(362.71,1356.10) scale(1,1.03)" font-size="37.0">3</text>
<text transform="translate(571.71,1356.10) scale(1,1.03)" font-size="37.0">6</text>
<text transform="translate(780.71,1356.10) scale(1,1.03)" font-size="37.0">9</text>
<path transform="translate(979.42,1356.10) scale(0.03700,-0.03811)" d="M262 0H354V697H292C280 630 240 585 111 573V492H262Z"/><text transform="translate(1000.00,1356.10) scale(1,1.03)" font-size="37.0">2</text>
<path transform="translate(1188.42,1356.10) scale(0.03700,-0.03811)" d="M262 0H354V697H292C280 630 240 585 111 573V492H262Z"/><text transform="translate(1209.00,1356.10) scale(1,1.03)" font-size="37.0">5</text>
<path transform="translate(1397.42,1356.10) scale(0.03700,-0.03811)" d="M262 0H354V697H292C280 630 240 585 111 573V492H262Z"/><text transform="translate(1418.00,1356.10) scale(1,1.03)" font-size="37.0">8</text>
<text transform="translate(1606.42,1356.10) scale(1,1.03)" font-size="37.0">2</text><path transform="translate(1627.00,1356.10) scale(0.03700,-0.03811)" d="M262 0H354V697H292C280 630 240 585 111 573V492H262Z"/>
<text transform="translate(1815.42,1356.10) scale(1,1.03)" font-size="37.0">2</text><text transform="translate(1836.00,1356.10) scale(1,1.03)" font-size="37.0">4</text>
<text transform="translate(1000.50,1395.20) scale(1,1.03)" font-size="37.0" text-anchor="middle" >Local Time (hours)</text>
<text transform="translate(1000.5,750.80) scale(1,1.076)" font-size="42.0" text-anchor="middle">Southern hemisphere</text>
<text transform="translate(46.7,1034.40) rotate(-90) scale(1,1.03)" font-size="36.3" text-anchor="middle">Latitude (<tspan font-size="26" dy="-5.5">°</tspan><tspan dy="5.5">)</tspan></text>
<rect x="1850.8" y="1089.6" width="38.799999999999955" height="211.20000000000005" fill="url(#cb)" stroke="#000" stroke-width="2.2"/>
<linearGradient id="cbd" gradientUnits="userSpaceOnUse" x1="0" y1="1090" x2="0" y2="1300"><stop offset="0" stop-color="#000"/><stop offset="0.3" stop-color="#000"/><stop offset="0.45" stop-color="#fff"/><stop offset="1" stop-color="#fff"/></linearGradient>
<path d="M1853.1 1092.1V1298.8M1887.3 1092.1V1298.8M1853.3 1091.8999999999999H1887.6" stroke="url(#cbd)" stroke-width="1.3" stroke-dasharray="2 5.8" fill="none" opacity="0.85"/>
<path d="M1850.8 1159.5h5M1889.6 1159.5h-5M1850.8 1229.5h5M1889.6 1229.5h-5" stroke="#000" stroke-width="1.5"/>
<path transform="translate(1897.80,1107.00) scale(0.02925,-0.03013)" d="M262 0H354V697H292C280 630 240 585 111 573V492H262Z"/><text transform="translate(1914.07,1107.00) scale(1,1.03)" font-size="29.25">0</text><text transform="translate(1930.33,1107.00) scale(1,1.03)" font-size="29.25">0</text><text transform="translate(1946.60,1107.00) scale(1,1.03)" font-size="29.25">0</text>
<path transform="translate(1897.80,1169.60) scale(0.02925,-0.03013)" d="M262 0H354V697H292C280 630 240 585 111 573V492H262Z"/><text transform="translate(1914.07,1169.60) scale(1,1.03)" font-size="29.25">0</text><text transform="translate(1930.33,1169.60) scale(1,1.03)" font-size="29.25">0</text>
<path transform="translate(1897.80,1239.60) scale(0.02925,-0.03013)" d="M262 0H354V697H292C280 630 240 585 111 573V492H262Z"/><text transform="translate(1914.07,1239.60) scale(1,1.03)" font-size="29.25">0</text>
<path transform="translate(1897.80,1300.20) scale(0.02925,-0.03013)" d="M262 0H354V697H292C280 630 240 585 111 573V492H262Z"/>
<text transform="translate(1837.2,1078.0) scale(1,1.044)" font-size="29.5">kR H<tspan font-size="13.5" dx="0.3" dy="3.4">2</tspan></text>
</svg></body></html>
